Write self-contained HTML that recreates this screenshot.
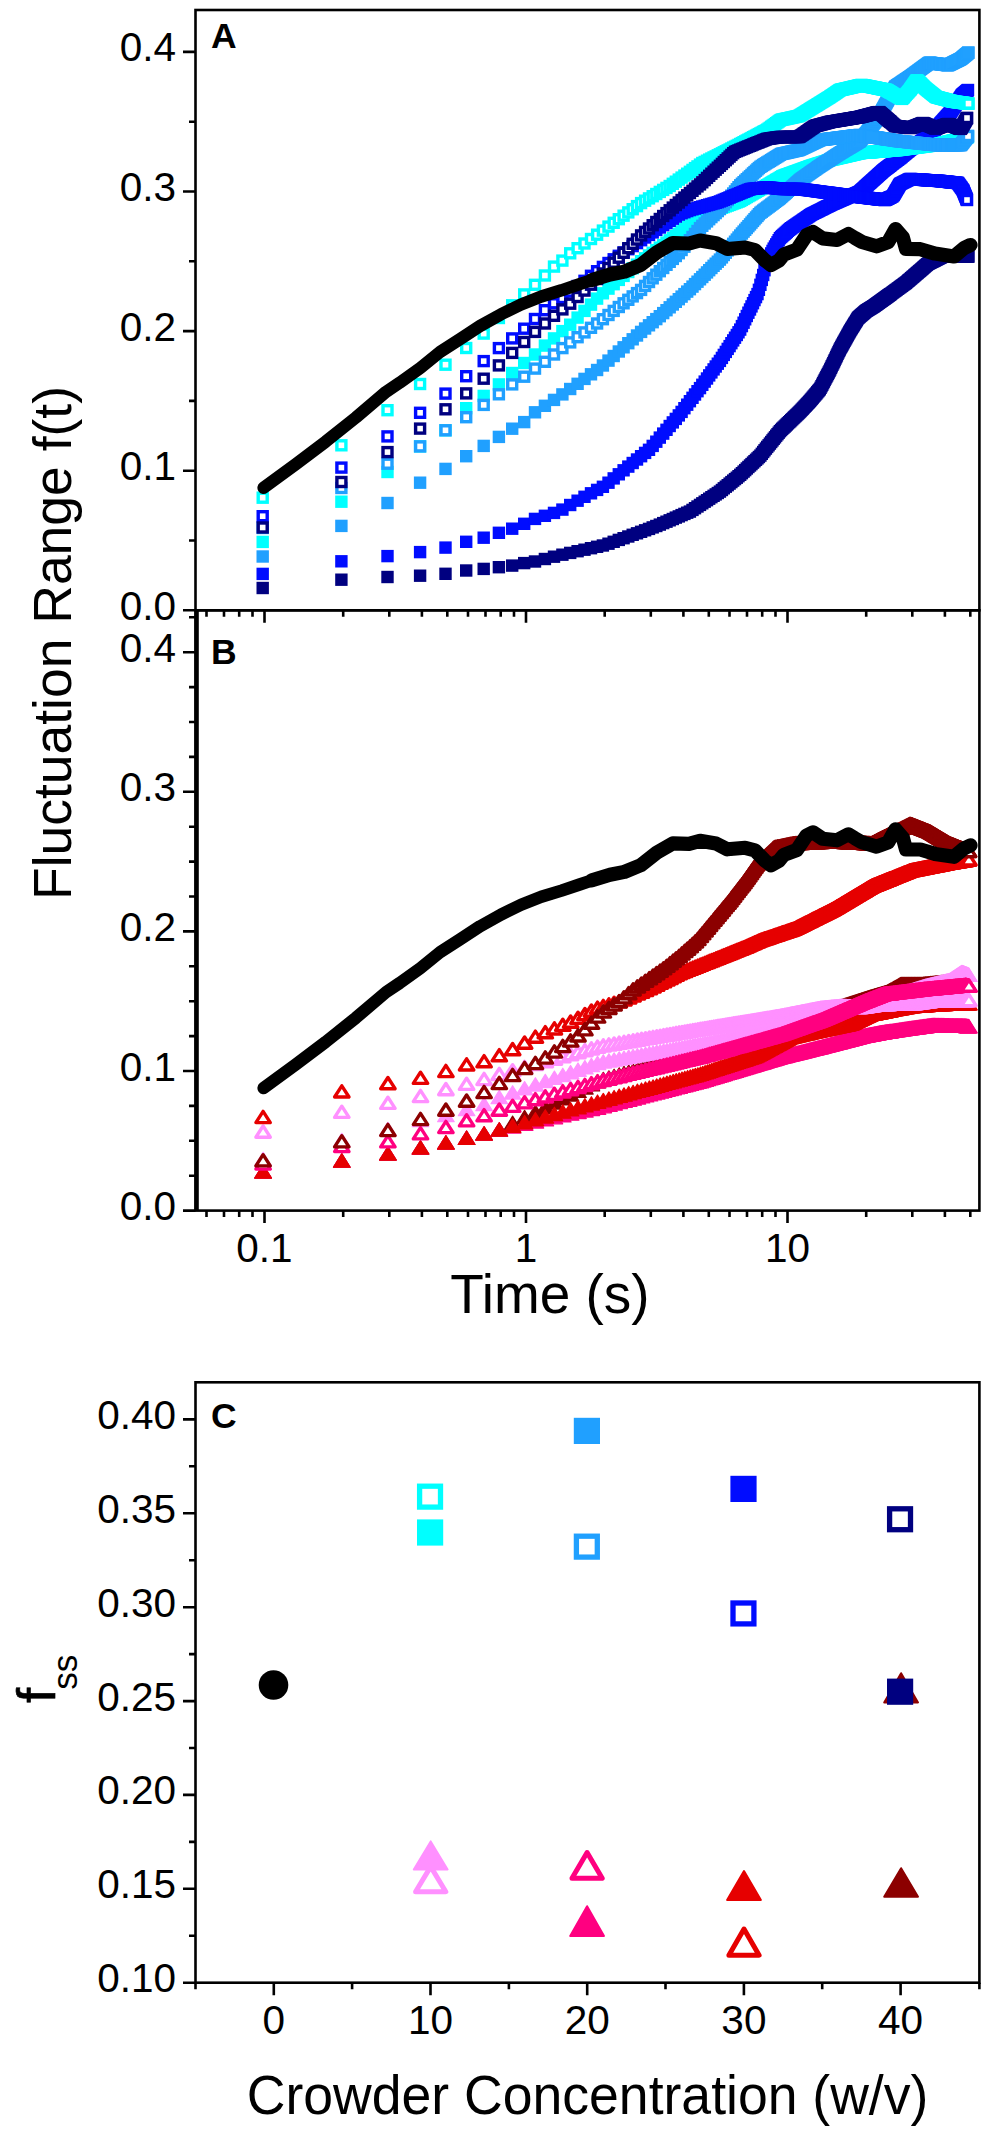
<!DOCTYPE html>
<html><head><meta charset="utf-8"><style>
html,body{margin:0;padding:0;background:#fff;}
svg{display:block;}
text{font-family:"Liberation Sans",sans-serif;fill:#000;}
</style></head><body>
<svg width="992" height="2134" viewBox="0 0 992 2134">
<defs><marker id="sCF" markerUnits="userSpaceOnUse" markerWidth="13" markerHeight="13" refX="6.2" refY="6.2" overflow="visible"><rect width="12.4" height="12.4" fill="#00FFFF"/></marker><marker id="sCO" markerUnits="userSpaceOnUse" markerWidth="13" markerHeight="13" refX="6.2" refY="6.2" overflow="visible"><rect x="1.7" y="1.7" width="9" height="9" fill="#fff" stroke="#00FFFF" stroke-width="3.4"/></marker><marker id="sDF" markerUnits="userSpaceOnUse" markerWidth="13" markerHeight="13" refX="6.2" refY="6.2" overflow="visible"><rect width="12.4" height="12.4" fill="#20A0FF"/></marker><marker id="sDO" markerUnits="userSpaceOnUse" markerWidth="13" markerHeight="13" refX="6.2" refY="6.2" overflow="visible"><rect x="1.7" y="1.7" width="9" height="9" fill="#fff" stroke="#20A0FF" stroke-width="3.4"/></marker><marker id="sBF" markerUnits="userSpaceOnUse" markerWidth="13" markerHeight="13" refX="6.2" refY="6.2" overflow="visible"><rect width="12.4" height="12.4" fill="#000CFF"/></marker><marker id="sBO" markerUnits="userSpaceOnUse" markerWidth="13" markerHeight="13" refX="6.2" refY="6.2" overflow="visible"><rect x="1.7" y="1.7" width="9" height="9" fill="#fff" stroke="#000CFF" stroke-width="3.4"/></marker><marker id="sNF" markerUnits="userSpaceOnUse" markerWidth="13" markerHeight="13" refX="6.2" refY="6.2" overflow="visible"><rect width="12.4" height="12.4" fill="#000080"/></marker><marker id="sNO" markerUnits="userSpaceOnUse" markerWidth="13" markerHeight="13" refX="6.2" refY="6.2" overflow="visible"><rect x="1.7" y="1.7" width="9" height="9" fill="#fff" stroke="#000080" stroke-width="3.4"/></marker><marker id="tRF" markerUnits="userSpaceOnUse" markerWidth="18" markerHeight="15" refX="9" refY="7.3" overflow="visible"><path d="M9 0.6L17.3 14 0.7 14Z" fill="#E60000" stroke="#E60000" stroke-width="1.2" stroke-linejoin="round"/></marker><marker id="tRO" markerUnits="userSpaceOnUse" markerWidth="18" markerHeight="15" refX="9" refY="7.3" overflow="visible"><path d="M9 1.7L16.2 12.9 1.8 12.9Z" fill="#fff" stroke="#E60000" stroke-width="3.4" stroke-linejoin="round"/></marker><marker id="tWF" markerUnits="userSpaceOnUse" markerWidth="18" markerHeight="15" refX="9" refY="7.3" overflow="visible"><path d="M9 0.6L17.3 14 0.7 14Z" fill="#8C0000" stroke="#8C0000" stroke-width="1.2" stroke-linejoin="round"/></marker><marker id="tWO" markerUnits="userSpaceOnUse" markerWidth="18" markerHeight="15" refX="9" refY="7.3" overflow="visible"><path d="M9 1.7L16.2 12.9 1.8 12.9Z" fill="#fff" stroke="#8C0000" stroke-width="3.4" stroke-linejoin="round"/></marker><marker id="tPF" markerUnits="userSpaceOnUse" markerWidth="18" markerHeight="15" refX="9" refY="7.3" overflow="visible"><path d="M9 0.6L17.3 14 0.7 14Z" fill="#FF0080" stroke="#FF0080" stroke-width="1.2" stroke-linejoin="round"/></marker><marker id="tPO" markerUnits="userSpaceOnUse" markerWidth="18" markerHeight="15" refX="9" refY="7.3" overflow="visible"><path d="M9 1.7L16.2 12.9 1.8 12.9Z" fill="#fff" stroke="#FF0080" stroke-width="3.4" stroke-linejoin="round"/></marker><marker id="tVF" markerUnits="userSpaceOnUse" markerWidth="18" markerHeight="15" refX="9" refY="7.3" overflow="visible"><path d="M9 0.6L17.3 14 0.7 14Z" fill="#FF90FF" stroke="#FF90FF" stroke-width="1.2" stroke-linejoin="round"/></marker><marker id="tVO" markerUnits="userSpaceOnUse" markerWidth="18" markerHeight="15" refX="9" refY="7.3" overflow="visible"><path d="M9 1.7L16.2 12.9 1.8 12.9Z" fill="#fff" stroke="#FF90FF" stroke-width="3.4" stroke-linejoin="round"/></marker></defs><polyline points="262.7,588.0 341.4,579.7 387.5,577.0 420.1,575.7 445.5,573.8 466.2,570.5 483.7,568.9 498.9,567.2 512.2,565.6 524.2,563.1 535.0,561.5 544.9,559.0 554.0,556.7 562.4,554.7 570.2,552.9 577.6,551.2 584.5,549.7 591.0,548.2 597.1,546.8 602.9,545.5 608.5,543.7 613.7,541.8 618.8,539.9 623.6,538.2 628.3,536.5 632.7,534.8 637.0,533.3 641.1,531.8 645.1,530.3 649.0,528.9 652.7,527.4 656.3,526.0 659.8,524.6 663.2,523.1 666.5,521.7 669.7,520.3 672.8,519.0 675.8,517.6 678.8,516.4 681.6,515.1 684.4,513.9 687.2,512.7 689.9,511.6 692.5,509.9 695.0,508.2 697.5,506.5 700.0,504.9 702.3,503.3 704.7,501.7 707.0,500.2 709.2,498.7 711.4,497.2 713.6,495.8 715.7,494.4 717.8,493.0 719.9,491.6 721.9,490.0 723.8,488.3 725.8,486.7 727.7,485.2 729.6,483.6 731.4,482.1 733.2,480.6 735.0,479.1 736.8,477.7 738.5,476.2 740.2,474.8 741.9,473.2 743.6,471.6 745.2,470.1 746.8,468.5 748.4,467.0 750.0,465.5 751.5,464.1 753.0,462.6 754.5,461.2 756.0,459.8 757.5,458.4 758.9,457.0 760.4,455.6 761.8,453.8 763.2,452.0 764.5,450.3 765.9,448.6 767.2,446.9 768.6,445.3 769.9,443.6 771.2,442.0 772.5,440.4 773.7,438.8 775.0,437.3 776.2,435.7 777.5,434.2 778.7,432.7 779.9,431.2 781.1,430.0 782.2,428.8 783.4,427.7 784.6,426.6 785.7,425.5 786.8,424.4 787.9,423.3 789.1,422.2 790.2,421.2 791.2,420.1 792.3,419.1 793.4,418.0 794.4,417.0 795.5,416.0 796.5,415.0 797.6,414.0 798.6,413.0 799.6,412.0 800.6,411.0 801.6,409.9 802.6,408.9 803.5,407.9 804.5,406.8 805.5,405.8 806.4,404.8 807.3,403.8 808.3,402.8 809.2,401.8 810.1,400.8 811.0,399.7 811.9,398.7 812.8,397.6 813.7,396.5 814.6,395.5 815.5,394.4 816.4,393.4 817.2,392.3 818.1,391.3 818.9,390.3 819.8,389.3 820.6,387.8 821.5,386.2 822.3,384.7 823.1,383.1 823.9,381.6 824.7,380.0 825.5,378.5 826.3,377.0 827.1,375.5 827.9,374.0 828.7,372.5 829.5,371.0 830.2,369.5 831.0,367.9 831.7,366.3 832.5,364.7 833.3,363.2 834.0,361.6 834.7,360.1 835.5,358.5 836.2,357.0 836.9,355.5 837.6,353.9 838.4,352.4 839.1,350.9 839.8,349.5 840.5,348.1 841.2,346.9 841.9,345.6 842.6,344.4 843.3,343.1 843.9,341.9 844.6,340.7 845.3,339.5 846.0,338.3 846.6,337.1 847.3,335.9 847.9,334.7 848.6,333.5 849.3,332.3 849.9,331.2 850.5,330.1 851.2,329.1 851.8,328.0 852.5,327.0 853.1,326.0 853.7,325.0 854.3,324.0 854.9,323.0 855.6,322.0 856.2,321.0 856.8,320.0 857.4,319.0 858.0,318.0 858.6,317.5 859.2,317.0 859.8,316.4 860.4,315.9 861.0,315.4 861.5,314.9 862.1,314.4 862.7,313.9 863.3,313.4 863.9,312.9 864.4,312.4 865.0,311.9 865.5,311.4 866.1,310.9 866.7,310.6 867.2,310.2 867.8,309.9 868.3,309.5 868.9,309.2 869.4,308.9 870.0,308.5 870.5,308.2 871.0,307.9 871.6,307.5 872.1,307.2 872.6,306.9 873.2,306.5 873.7,306.2 874.2,305.9 874.7,305.5 875.2,305.1 875.8,304.7 876.3,304.4 876.8,304.0 877.3,303.6 877.8,303.3 878.3,302.9 878.8,302.6 879.3,302.2 879.8,301.8 880.3,301.5 880.8,301.1 881.3,300.8 881.8,300.4 882.2,300.1 882.7,299.7 883.2,299.4 883.7,299.0 884.2,298.7 884.7,298.4 885.1,298.0 885.6,297.7 886.1,297.3 886.5,297.0 887.0,296.6 887.5,296.3 887.9,296.0 888.4,295.6 888.8,295.3 889.3,295.0 889.8,294.6 890.2,294.3 890.7,294.0 891.6,293.3 892.5,292.6 893.3,292.0 894.2,291.4 895.1,290.7 895.9,290.1 896.8,289.5 897.7,288.8 898.5,288.2 899.3,287.6 900.2,287.0 901.0,286.4 901.8,285.8 902.6,285.2 903.4,284.6 904.2,284.0 905.0,283.5 905.8,282.9 906.6,282.2 907.4,281.5 908.2,280.8 908.9,280.2 909.7,279.5 910.5,278.9 911.2,278.2 912.0,277.5 912.7,276.9 913.5,276.3 914.2,275.6 914.9,275.0 915.6,274.4 916.4,273.7 917.1,273.1 917.8,272.5 918.5,271.9 919.2,271.3 919.9,270.7 920.6,270.1 921.3,269.5 922.0,268.9 922.7,268.3 923.3,267.7 924.0,267.1 924.7,266.5 925.3,265.9 926.0,265.4 926.7,264.8 927.3,264.2 928.0,263.8 928.6,263.4 929.3,263.1 929.9,262.8 930.5,262.5 931.2,262.1 931.8,261.8 932.4,261.5 933.1,261.2 933.7,260.9 934.3,260.6 934.9,260.3 935.5,259.9 936.1,259.6 936.7,259.3 937.3,259.0 937.9,258.7 938.5,258.4 939.1,258.1 939.7,257.8 940.3,257.5 940.8,257.2 941.4,256.9 942.0,256.7 942.6,256.5 943.1,256.5 943.7,256.5 944.3,256.5 944.8,256.5 945.4,256.5 945.9,256.5 946.5,256.5 947.0,256.5 947.6,256.5 948.1,256.5 948.7,256.5 949.2,256.5 949.8,256.5 950.3,256.5 950.8,256.5 951.4,256.5 951.9,256.5 952.4,256.5 952.9,256.5 953.4,256.5 954.0,256.5 954.5,256.5 955.0,256.5 955.5,256.5 956.0,256.5 956.5,256.5 957.0,256.5 957.5,256.5 958.0,256.5 958.5,256.5 959.0,256.5 959.5,256.5 960.0,256.5 960.5,256.5 961.0,256.5 961.5,256.5 961.9,256.5 962.4,256.5 962.9,256.5 963.4,256.5 963.8,256.5 964.3,256.5 964.8,256.5 965.3,256.5 965.7,256.5 966.2,256.5 966.6,256.5 967.1,256.5 967.6,256.5 968.0,256.5 968.5,256.5" fill="none" stroke="none" marker-start="url(#sNF)" marker-mid="url(#sNF)" marker-end="url(#sNF)"/>
<polyline points="262.7,573.9 341.4,561.3 387.5,556.1 420.1,552.1 445.5,547.6 466.2,541.8 483.7,537.7 498.9,532.8 512.2,528.7 524.2,523.8 535.0,518.9 544.9,515.8 554.0,512.9 562.4,509.6 570.2,505.0 577.6,500.7 584.5,496.8 591.0,493.3 597.1,489.9 602.9,486.8 608.5,482.7 613.7,478.4 618.8,474.3 623.6,470.3 628.3,466.6 632.7,463.0 637.0,459.5 641.1,456.2 645.1,452.9 649.0,449.8 652.7,445.9 656.3,441.7 659.8,437.6 663.2,433.6 666.5,429.8 669.7,426.0 672.8,422.4 675.8,418.9 678.8,415.4 681.6,411.9 684.4,408.2 687.2,404.7 689.9,401.2 692.5,397.8 695.0,394.5 697.5,391.2 700.0,388.1 702.3,384.8 704.7,381.6 707.0,378.5 709.2,375.4 711.4,372.4 713.6,369.4 715.7,366.5 717.8,363.7 719.9,360.9 721.9,357.9 723.8,354.9 725.8,351.9 727.7,348.9 729.6,346.1 731.4,343.2 733.2,340.4 735.0,337.7 736.8,335.0 738.5,332.3 740.2,329.6 741.9,326.1 743.6,322.7 745.2,319.3 746.8,316.0 748.4,312.7 750.0,309.5 751.5,306.4 753.0,303.2 754.5,300.1 756.0,297.1 757.5,294.1 758.9,289.8 760.4,284.8 761.8,279.9 763.2,275.0 764.5,270.2 765.9,265.5 767.2,261.3 768.6,258.7 769.9,256.0 771.2,253.4 772.5,250.9 773.7,248.6 775.0,246.5 776.2,244.4 777.5,242.3 778.7,240.2 779.9,238.2 781.1,237.0 782.2,236.0 783.4,234.9 784.6,233.9 785.7,232.9 786.8,231.9 787.9,230.8 789.1,229.8 790.2,228.9 791.2,228.2 792.3,227.4 793.4,226.7 794.4,226.0 795.5,225.2 796.5,224.5 797.6,223.8 798.6,223.1 799.6,222.4 800.6,221.8 801.6,221.1 802.6,220.4 803.5,219.7 804.5,219.1 805.5,218.4 806.4,217.8 807.3,217.1 808.3,216.5 809.2,215.9 810.1,215.2 811.0,214.6 811.9,214.1 812.8,213.7 813.7,213.2 814.6,212.8 815.5,212.4 816.4,211.9 817.2,211.5 818.1,211.1 818.9,210.6 819.8,210.2 820.6,209.8 821.5,209.4 822.3,209.0 823.1,208.6 823.9,208.1 824.7,207.7 825.5,207.3 826.3,206.9 827.1,206.5 827.9,206.2 828.7,205.8 829.5,205.4 830.2,205.0 831.0,204.6 831.7,204.2 832.5,203.9 833.3,203.6 834.0,203.3 834.7,202.9 835.5,202.6 836.2,202.3 836.9,202.0 837.6,201.7 838.4,201.3 839.1,201.0 839.8,200.7 840.5,200.4 841.2,200.1 841.9,199.8 842.6,199.5 843.3,199.2 843.9,198.9 844.6,198.6 845.3,198.3 846.0,198.0 846.6,197.7 847.3,197.4 847.9,197.1 848.6,196.8 849.3,196.5 849.9,196.3 850.5,196.0 851.2,195.7 851.8,195.4 852.5,195.1 853.1,194.9 853.7,194.6 854.3,194.3 854.9,194.0 855.6,193.8 856.2,193.5 856.8,193.2 857.4,193.0 858.0,192.7 858.6,192.4 859.2,192.2 859.8,191.8 860.4,191.3 861.0,190.8 861.5,190.2 862.1,189.7 862.7,189.2 863.3,188.7 863.9,188.2 864.4,187.7 865.0,187.1 865.5,186.6 866.1,186.1 866.7,185.6 867.2,185.1 867.8,184.6 868.3,184.1 868.9,183.6 869.4,183.1 870.0,182.7 870.5,182.2 871.0,181.7 871.6,181.2 872.1,180.7 872.6,180.2 873.2,179.8 873.7,179.3 874.2,178.8 874.7,178.4 875.2,177.9 875.8,177.4 876.3,177.0 876.8,176.5 877.3,176.1 877.8,175.6 878.3,175.1 878.8,174.7 879.3,174.2 879.8,173.8 880.3,173.3 880.8,172.9 881.3,172.5 881.8,172.0 882.2,171.6 882.7,171.1 883.2,170.7 883.7,170.3 884.2,169.9 884.7,169.5 885.1,169.2 885.6,168.8 886.1,168.4 886.5,168.1 887.0,167.7 887.5,167.4 887.9,167.1 888.4,166.7 888.8,166.4 889.3,166.0 889.8,165.7 890.2,165.3 890.7,165.0 891.6,164.3 892.5,163.7 893.3,163.0 894.2,162.3 895.1,161.7 895.9,161.0 896.8,160.4 897.7,159.8 898.5,159.1 899.3,158.5 900.2,157.9 901.0,157.2 901.8,156.5 902.6,155.8 903.4,155.1 904.2,154.5 905.0,153.8 905.8,153.1 906.6,152.5 907.4,151.8 908.2,151.2 908.9,150.5 909.7,149.9 910.5,149.3 911.2,148.6 912.0,148.0 912.7,147.5 913.5,146.9 914.2,146.4 914.9,145.9 915.6,145.4 916.4,144.8 917.1,144.3 917.8,143.8 918.5,143.3 919.2,142.8 919.9,142.3 920.6,141.8 921.3,141.3 922.0,140.8 922.7,140.3 923.3,139.8 924.0,139.3 924.7,138.8 925.3,138.4 926.0,137.9 926.7,137.4 927.3,136.9 928.0,136.5 928.6,136.0 929.3,135.5 929.9,135.1 930.5,134.4 931.2,133.7 931.8,133.0 932.4,132.3 933.1,131.6 933.7,131.0 934.3,130.3 934.9,129.6 935.5,128.9 936.1,128.3 936.7,127.6 937.3,127.0 937.9,126.3 938.5,125.6 939.1,125.0 939.7,124.4 940.3,123.7 940.8,123.1 941.4,122.4 942.0,121.8 942.6,121.2 943.1,120.5 943.7,119.9 944.3,119.3 944.8,118.7 945.4,118.1 945.9,117.5 946.5,116.9 947.0,116.2 947.6,115.6 948.1,115.0 948.7,114.5 949.2,113.9 949.8,113.3 950.3,112.6 950.8,111.8 951.4,111.0 951.9,110.2 952.4,109.4 952.9,108.6 953.4,107.8 954.0,107.1 954.5,106.3 955.0,105.5 955.5,104.7 956.0,104.0 956.5,103.2 957.0,102.5 957.5,101.7 958.0,101.0 958.5,100.2 959.0,99.5 959.5,98.7 960.0,98.0 960.5,97.3 961.0,96.5 961.5,95.8 961.9,95.1 962.4,94.7 962.9,94.3 963.4,93.9 963.8,93.5 964.3,93.1 964.8,92.7 965.3,92.3 965.7,91.9 966.2,91.5 966.6,91.1 967.1,90.7 967.6,90.4 968.0,90.0" fill="none" stroke="none" marker-start="url(#sBF)" marker-mid="url(#sBF)" marker-end="url(#sBF)"/>
<polyline points="262.7,541.9 341.4,501.7 387.5,472.0 420.1,446.4 445.5,430.3 466.2,408.2 483.7,395.9 498.9,384.4 512.2,373.0 524.2,363.0 535.0,354.5 544.9,345.6 554.0,338.4 562.4,331.1 570.2,324.7 577.6,317.6 584.5,310.9 591.0,304.6 597.1,298.6 602.9,293.3 608.5,288.6 613.7,284.2 618.8,279.9 623.6,275.9 628.3,272.0 632.7,268.3 637.0,264.7 641.1,261.2 645.1,258.3 649.0,255.5 652.7,252.8 656.3,250.1 659.8,247.6 663.2,245.1 666.5,242.7 669.7,240.3 672.8,238.1 675.8,235.8 678.8,233.7 681.6,231.4 684.4,229.0 687.2,226.7 689.9,224.5 692.5,222.3 695.0,220.2 697.5,218.1 700.0,216.0 702.3,215.1 704.7,214.2 707.0,213.4 709.2,212.5 711.4,211.7 713.6,210.9 715.7,210.1 717.8,209.3 719.9,208.6 721.9,207.8 723.8,207.1 725.8,206.3 727.7,205.6 729.6,204.9 731.4,204.2 733.2,203.5 735.0,202.9 736.8,202.2 738.5,201.6 740.2,200.9 741.9,199.9 743.6,198.9 745.2,198.0 746.8,197.0 748.4,196.1 750.0,195.2 751.5,194.3 753.0,193.4 754.5,192.6 756.0,191.7 757.5,190.8 758.9,190.0 760.4,189.2 761.8,188.3 763.2,187.5 764.5,186.7 765.9,185.9 767.2,185.2 768.6,184.4 769.9,183.6 771.2,182.9 772.5,182.1 773.7,181.4 775.0,180.7 776.2,179.9 777.5,179.2 778.7,178.5 779.9,177.8 781.1,177.1 782.2,176.4 783.4,175.9 784.6,175.4 785.7,175.0 786.8,174.6 787.9,174.2 789.1,173.8 790.2,173.4 791.2,173.1 792.3,172.7 793.4,172.3 794.4,171.9 795.5,171.5 796.5,171.2 797.6,170.8 798.6,170.4 799.6,170.1 800.6,169.7 801.6,169.4 802.6,169.0 803.5,168.7 804.5,168.3 805.5,168.0 806.4,167.6 807.3,167.3 808.3,167.0 809.2,166.6 810.1,166.3 811.0,166.0 811.9,165.7 812.8,165.4 813.7,165.1 814.6,164.9 815.5,164.6 816.4,164.3 817.2,164.0 818.1,163.8 818.9,163.5 819.8,163.2 820.6,163.0 821.5,162.7 822.3,162.4 823.1,162.2 823.9,161.9 824.7,161.7 825.5,161.4 826.3,161.2 827.1,160.9 827.9,160.7 828.7,160.4 829.5,160.2 830.2,159.9 831.0,159.8 831.7,159.6 832.5,159.4 833.3,159.2 834.0,159.1 834.7,158.9 835.5,158.7 836.2,158.6 836.9,158.4 837.6,158.2 838.4,158.0 839.1,157.9 839.8,157.7 840.5,157.6 841.2,157.4 841.9,157.2 842.6,157.1 843.3,156.9 843.9,156.7 844.6,156.6 845.3,156.4 846.0,156.3 846.6,156.1 847.3,156.0 847.9,155.8 848.6,155.7 849.3,155.5 849.9,155.4 850.5,155.2 851.2,155.1 851.8,154.9 852.5,154.8 853.1,154.6 853.7,154.5 854.3,154.3 854.9,154.2 855.6,154.0 856.2,153.9 856.8,153.7 857.4,153.6 858.0,153.5 858.6,153.3 859.2,153.2 859.8,153.1 860.4,153.0 861.0,152.9 861.5,152.9 862.1,152.8 862.7,152.8 863.3,152.7 863.9,152.7 864.4,152.7 865.0,152.6 865.5,152.6 866.1,152.5 866.7,152.5 867.2,152.4 867.8,152.4 868.3,152.3 868.9,152.3 869.4,152.3 870.0,152.2 870.5,152.2 871.0,152.1 871.6,152.1 872.1,152.0 872.6,152.0 873.2,152.0 873.7,151.9 874.2,151.9 874.7,151.8 875.2,151.8 875.8,151.8 876.3,151.7 876.8,151.7 877.3,151.6 877.8,151.6 878.3,151.6 878.8,151.5 879.3,151.5 879.8,151.4 880.3,151.4 880.8,151.4 881.3,151.3 881.8,151.3 882.2,151.2 882.7,151.2 883.2,151.2 883.7,151.1 884.2,151.1 884.7,151.1 885.1,151.0 885.6,151.0 886.1,150.9 886.5,150.9 887.0,150.9 887.5,150.8 887.9,150.8 888.4,150.8 888.8,150.7 889.3,150.7 889.8,150.7 890.2,150.6 890.7,150.6 891.6,150.5 892.5,150.4 893.3,150.4 894.2,150.3 895.1,150.2 895.9,150.2 896.8,150.1 897.7,150.0 898.5,149.9 899.3,149.8 900.2,149.7 901.0,149.6 901.8,149.5 902.6,149.4 903.4,149.3 904.2,149.2 905.0,149.0 905.8,148.9 906.6,148.8 907.4,148.7 908.2,148.6 908.9,148.5 909.7,148.4 910.5,148.3 911.2,148.2 912.0,148.1 912.7,148.0 913.5,147.9 914.2,147.8 914.9,147.7 915.6,147.6 916.4,147.5 917.1,147.4 917.8,147.3 918.5,147.2 919.2,147.1 919.9,147.0 920.6,146.9 921.3,146.9 922.0,146.8 922.7,146.7 923.3,146.6 924.0,146.5 924.7,146.4 925.3,146.3 926.0,146.2 926.7,146.1 927.3,146.0 928.0,145.9 928.6,145.9 929.3,145.8 929.9,145.7 930.5,145.6 931.2,145.5 931.8,145.4 932.4,145.3 933.1,145.3 933.7,145.2 934.3,145.1 934.9,145.0 935.5,144.9 936.1,144.7 936.7,144.6 937.3,144.4 937.9,144.3 938.5,144.2 939.1,144.0 939.7,143.9 940.3,143.7 940.8,143.6 941.4,143.4 942.0,143.3 942.6,143.2 943.1,143.0 943.7,142.9 944.3,142.8 944.8,142.6 945.4,142.5 945.9,142.3 946.5,142.2 947.0,142.1 947.6,141.9 948.1,141.8 948.7,141.7 949.2,141.6 949.8,141.4 950.3,141.3 950.8,141.2 951.4,141.0 951.9,140.9 952.4,140.8 952.9,140.7 953.4,140.5 954.0,140.4 954.5,140.3 955.0,140.2 955.5,140.0 956.0,139.9 956.5,139.8 957.0,139.7 957.5,139.5 958.0,139.4 958.5,139.3 959.0,139.2 959.5,139.1 960.0,138.9 960.5,138.8 961.0,138.7 961.5,138.6 961.9,138.5 962.4,138.4 962.9,138.2 963.4,138.1 963.8,138.0 964.3,137.9 964.8,137.8 965.3,137.7 965.7,137.6 966.2,137.4 966.6,137.3 967.1,137.2 967.6,137.1 968.0,137.0" fill="none" stroke="none" marker-start="url(#sCF)" marker-mid="url(#sCF)" marker-end="url(#sCF)"/>
<polyline points="262.7,556.5 341.4,525.9 387.5,503.0 420.1,482.7 445.5,468.9 466.2,456.2 483.7,445.9 498.9,436.9 512.2,428.7 524.2,422.1 535.0,412.3 544.9,405.8 554.0,399.9 562.4,394.4 570.2,389.0 577.6,383.8 584.5,378.9 591.0,374.3 597.1,370.0 602.9,365.5 608.5,360.6 613.7,356.0 618.8,351.5 623.6,347.3 628.3,343.2 632.7,339.3 637.0,335.5 641.1,331.9 645.1,328.5 649.0,325.3 652.7,322.2 656.3,319.1 659.8,316.2 663.2,313.1 666.5,310.2 669.7,307.3 672.8,304.5 675.8,301.8 678.8,299.2 681.6,296.6 684.4,294.1 687.2,291.6 689.9,289.2 692.5,286.6 695.0,284.1 697.5,281.7 700.0,279.3 702.3,277.0 704.7,274.7 707.0,272.4 709.2,270.2 711.4,268.0 713.6,265.8 715.7,263.7 717.8,261.7 719.9,259.6 721.9,257.4 723.8,255.0 725.8,252.7 727.7,250.4 729.6,248.2 731.4,246.0 733.2,243.8 735.0,241.7 736.8,239.6 738.5,237.5 740.2,235.5 741.9,233.5 743.6,231.6 745.2,229.8 746.8,228.0 748.4,226.2 750.0,224.4 751.5,222.6 753.0,220.9 754.5,219.2 756.0,217.5 757.5,215.9 758.9,214.2 760.4,212.7 761.8,211.7 763.2,210.6 764.5,209.6 765.9,208.6 767.2,207.6 768.6,206.6 769.9,205.6 771.2,204.6 772.5,203.7 773.7,202.7 775.0,201.8 776.2,200.8 777.5,199.9 778.7,199.0 779.9,198.1 781.1,197.0 782.2,196.0 783.4,194.9 784.6,193.9 785.7,192.9 786.8,191.9 787.9,190.8 789.1,189.8 790.2,188.9 791.2,187.9 792.3,186.9 793.4,186.0 794.4,185.0 795.5,184.1 796.5,183.1 797.6,182.2 798.6,181.3 799.6,180.4 800.6,179.6 801.6,178.9 802.6,178.2 803.5,177.5 804.5,176.9 805.5,176.2 806.4,175.5 807.3,174.9 808.3,174.2 809.2,173.6 810.1,172.9 811.0,172.3 811.9,171.6 812.8,171.0 813.7,170.4 814.6,169.8 815.5,169.2 816.4,168.5 817.2,167.9 818.1,167.3 818.9,166.7 819.8,166.2 820.6,165.6 821.5,165.1 822.3,164.5 823.1,164.0 823.9,163.5 824.7,162.9 825.5,162.4 826.3,161.9 827.1,161.4 827.9,160.9 828.7,160.4 829.5,159.9 830.2,159.4 831.0,158.9 831.7,158.4 832.5,157.9 833.3,157.4 834.0,156.9 834.7,156.4 835.5,155.9 836.2,155.5 836.9,155.0 837.6,154.5 838.4,154.1 839.1,153.6 839.8,153.1 840.5,152.7 841.2,152.3 841.9,151.9 842.6,151.5 843.3,151.0 843.9,150.6 844.6,150.2 845.3,149.8 846.0,149.4 846.6,149.0 847.3,148.6 847.9,148.2 848.6,147.8 849.3,147.4 849.9,147.1 850.5,146.7 851.2,146.3 851.8,145.9 852.5,145.5 853.1,145.2 853.7,144.8 854.3,144.4 854.9,144.0 855.6,143.7 856.2,143.3 856.8,142.9 857.4,142.6 858.0,142.2 858.6,141.8 859.2,141.5 859.8,141.1 860.4,140.5 861.0,139.8 861.5,139.0 862.1,138.3 862.7,137.5 863.3,136.8 863.9,136.1 864.4,135.4 865.0,134.6 865.5,133.9 866.1,133.2 866.7,132.5 867.2,131.8 867.8,131.1 868.3,130.4 868.9,129.7 869.4,129.0 870.0,128.3 870.5,127.6 871.0,126.9 871.6,126.2 872.1,125.5 872.6,124.9 873.2,124.2 873.7,123.5 874.2,122.8 874.7,122.2 875.2,121.5 875.8,120.9 876.3,120.2 876.8,119.6 877.3,118.9 877.8,118.3 878.3,117.5 878.8,116.5 879.3,115.6 879.8,114.7 880.3,113.8 880.8,112.9 881.3,112.1 881.8,111.2 882.2,110.3 882.7,109.4 883.2,108.5 883.7,107.7 884.2,106.8 884.7,105.9 885.1,105.1 885.6,104.2 886.1,103.4 886.5,102.5 887.0,101.7 887.5,100.8 887.9,100.0 888.4,99.1 888.8,98.3 889.3,97.5 889.8,96.7 890.2,95.8 890.7,95.0 891.1,94.2 891.6,93.4 892.0,92.6 892.5,91.8 892.9,91.0 893.3,90.2 893.8,89.4 894.2,88.6 894.7,87.8 895.1,87.0 895.5,86.5 896.4,85.9 897.2,85.3 898.1,84.7 898.9,84.2 899.8,83.6 900.6,83.1 901.4,82.5 902.2,82.0 903.0,81.4 903.8,80.9 904.6,80.4 905.4,79.8 906.2,79.3 907.0,78.8 907.8,78.2 908.6,77.7 909.3,77.2 910.1,76.7 910.8,76.2 911.6,75.6 912.3,75.1 913.1,74.5 913.8,74.0 914.6,73.5 915.3,72.9 916.0,72.4 916.7,71.9 917.4,71.4 918.2,70.8 918.9,70.3 919.6,69.8 920.3,69.3 920.9,68.8 921.6,68.3 922.3,67.8 923.0,67.3 923.7,66.8 924.3,66.3 925.0,65.8 925.7,65.3 926.3,64.9 927.0,64.4 927.6,63.9 928.3,63.4 928.9,63.0 929.6,62.7 930.2,62.8 930.9,62.9 931.5,63.0 932.1,63.1 932.7,63.2 933.4,63.2 934.0,63.3 934.6,63.4 935.2,63.5 935.8,63.6 936.4,63.6 937.0,63.7 937.6,63.8 938.2,63.9 938.8,64.0 939.4,64.0 940.0,64.1 940.6,64.2 941.1,64.3 941.7,64.3 942.3,64.4 942.9,64.5 943.4,64.6 944.0,64.6 944.5,64.7 945.1,64.8 945.7,64.9 946.2,64.9 946.8,65.0 947.3,65.1 947.9,65.2 948.4,65.1 948.9,64.8 949.5,64.6 950.0,64.3 950.6,64.0 951.1,63.8 951.6,63.5 952.1,63.2 952.7,63.0 953.2,62.7 953.7,62.4 954.2,62.2 954.7,61.9 955.2,61.7 955.8,61.4 956.3,61.2 956.8,60.9 957.3,60.7 957.8,60.4 958.3,60.2 958.8,59.9 959.3,59.7 959.7,59.4 960.2,59.2 960.7,58.9 961.2,58.6 961.7,58.2 962.2,57.8 962.7,57.4 963.1,57.0 963.6,56.6 964.1,56.2 964.6,55.8 965.0,55.4 965.5,55.0 966.0,54.6 966.4,54.2 966.9,53.9 967.3,53.5 967.8,53.1 968.3,52.7 968.4,52.6" fill="none" stroke="none" marker-start="url(#sDF)" marker-mid="url(#sDF)" marker-end="url(#sDF)"/>
<polyline points="262.7,528.0 341.4,488.0 387.5,463.7 420.1,446.4 445.5,430.3 466.2,417.2 483.7,404.9 498.9,394.3 512.2,384.4 524.2,376.7 535.0,368.6 544.9,361.8 554.0,354.5 562.4,348.1 570.2,342.4 577.6,337.2 584.5,332.4 591.0,327.8 597.1,323.5 602.9,319.2 608.5,315.0 613.7,310.9 618.8,307.0 623.6,303.3 628.3,299.8 632.7,296.4 637.0,293.1 641.1,289.9 645.1,285.9 649.0,282.0 652.7,278.3 656.3,274.7 659.8,271.2 663.2,268.0 666.5,264.8 669.7,261.8 672.8,258.9 675.8,256.0 678.8,253.2 681.6,250.0 684.4,246.7 687.2,243.4 689.9,240.2 692.5,237.0 695.0,234.0 697.5,231.0 700.0,228.1 702.3,225.8 704.7,223.5 707.0,221.4 709.2,219.2 711.4,217.1 713.6,215.1 715.7,213.1 717.8,211.1 719.9,209.1 721.9,206.8 723.8,204.5 725.8,202.2 727.7,200.0 729.6,197.8 731.4,195.6 733.2,193.5 735.0,191.4 736.8,189.3 738.5,187.2 740.2,185.3 741.9,183.7 743.6,182.2 745.2,180.7 746.8,179.2 748.4,177.7 750.0,176.3 751.5,174.9 753.0,173.4 754.5,172.1 756.0,170.7 757.5,169.3 758.9,168.0 760.4,166.8 761.8,165.9 763.2,165.0 764.5,164.2 765.9,163.3 767.2,162.5 768.6,161.7 769.9,160.9 771.2,160.1 772.5,159.3 773.7,158.5 775.0,157.7 776.2,157.0 777.5,156.2 778.7,155.4 779.9,154.7 781.1,154.0 782.2,153.7 783.4,153.5 784.6,153.2 785.7,153.0 786.8,152.7 787.9,152.5 789.1,152.2 790.2,152.0 791.2,151.7 792.3,151.5 793.4,151.2 794.4,151.0 795.5,150.8 796.5,150.6 797.6,150.3 798.6,150.1 799.6,149.7 800.6,149.2 801.6,148.8 802.6,148.3 803.5,147.8 804.5,147.4 805.5,146.9 806.4,146.5 807.3,146.0 808.3,145.6 809.2,145.1 810.1,144.7 811.0,144.3 811.9,143.8 812.8,143.4 813.7,143.0 814.6,142.6 815.5,142.1 816.4,141.7 817.2,141.3 818.1,140.9 818.9,140.5 819.8,140.1 820.6,139.9 821.5,139.8 822.3,139.7 823.1,139.6 823.9,139.5 824.7,139.4 825.5,139.3 826.3,139.2 827.1,139.1 827.9,139.0 828.7,138.9 829.5,138.8 830.2,138.7 831.0,138.6 831.7,138.5 832.5,138.4 833.3,138.3 834.0,138.3 834.7,138.2 835.5,138.1 836.2,138.0 836.9,137.9 837.6,137.8 838.4,137.7 839.1,137.6 839.8,137.5 840.5,137.4 841.2,137.4 841.9,137.3 842.6,137.2 843.3,137.1 843.9,137.0 844.6,136.9 845.3,136.8 846.0,136.8 846.6,136.7 847.3,136.6 847.9,136.5 848.6,136.4 849.3,136.3 849.9,136.3 850.5,136.2 851.2,136.1 851.8,136.0 852.5,135.9 853.1,135.9 853.7,135.8 854.3,135.7 854.9,135.6 855.6,135.6 856.2,135.5 856.8,135.4 857.4,135.3 858.0,135.3 858.6,135.2 859.2,135.1 859.8,135.0 860.4,135.1 861.0,135.2 861.5,135.2 862.1,135.3 862.7,135.4 863.3,135.5 863.9,135.6 864.4,135.7 865.0,135.8 865.5,135.9 866.1,136.0 866.7,136.1 867.2,136.1 867.8,136.2 868.3,136.3 868.9,136.4 869.4,136.5 870.0,136.6 870.5,136.7 871.0,136.7 871.6,136.8 872.1,136.9 872.6,137.0 873.2,137.1 873.7,137.2 874.2,137.2 874.7,137.3 875.2,137.4 875.8,137.5 876.3,137.6 876.8,137.6 877.3,137.7 877.8,137.8 878.3,137.9 878.8,138.0 879.3,138.0 879.8,138.1 880.3,138.2 880.8,138.3 881.3,138.4 881.8,138.4 882.2,138.5 882.7,138.6 883.2,138.7 883.7,138.7 884.2,138.8 884.7,138.9 885.1,139.0 885.6,139.0 886.1,139.1 886.5,139.2 887.0,139.3 887.5,139.3 887.9,139.4 888.4,139.5 888.8,139.6 889.3,139.6 889.8,139.7 890.2,139.8 890.7,139.8 891.6,140.0 892.5,140.1 893.3,140.3 894.2,140.4 895.1,140.5 895.9,140.7 896.8,140.8 897.7,140.9 898.5,141.1 899.3,141.1 900.2,141.2 901.0,141.3 901.8,141.4 902.6,141.5 903.4,141.6 904.2,141.7 905.0,141.7 905.8,141.8 906.6,141.9 907.4,142.0 908.2,142.1 908.9,142.2 909.7,142.2 910.5,142.3 911.2,142.4 912.0,142.5 912.7,142.5 913.5,142.6 914.2,142.7 914.9,142.8 915.6,142.9 916.4,142.9 917.1,143.0 917.8,143.1 918.5,143.2 919.2,143.2 919.9,143.3 920.6,143.4 921.3,143.5 922.0,143.5 922.7,143.6 923.3,143.7 924.0,143.7 924.7,143.8 925.3,143.9 926.0,143.9 926.7,144.0 927.3,144.1 928.0,144.2 928.6,144.2 929.3,144.3 929.9,144.4 930.5,144.4 931.2,144.5 931.8,144.6 932.4,144.6 933.1,144.7 933.7,144.8 934.3,144.8 934.9,144.9 935.5,144.9 936.1,145.0 936.7,145.0 937.3,145.0 937.9,145.0 938.5,145.0 939.1,145.0 939.7,145.0 940.3,145.0 940.8,145.0 941.4,145.0 942.0,145.0 942.6,145.0 943.1,145.0 943.7,145.0 944.3,145.0 944.8,145.0 945.4,145.0 945.9,145.0 946.5,145.0 947.0,145.0 947.6,145.0 948.1,145.0 948.7,145.0 949.2,145.0 949.8,145.0 950.3,145.0 950.8,145.0 951.4,145.0 951.9,145.0 952.4,145.0 952.9,145.0 953.4,145.0 954.0,145.0 954.5,145.0 955.0,145.0 955.5,145.0 956.0,145.0 956.5,145.0 957.0,145.0 957.5,145.0 958.0,145.0 958.5,145.0 959.0,145.0 959.5,145.0 960.0,145.0 960.5,145.0 961.0,145.0 961.5,144.4 961.9,143.8 962.4,143.2 962.9,142.6 963.4,142.0 963.8,141.3 964.3,140.7 964.8,140.1 965.3,139.5 965.7,138.9 966.2,138.3 966.6,137.7 967.1,137.1 967.6,136.6 968.0,136.0 968.0,136.0" fill="none" stroke="none" marker-start="url(#sDO)" marker-mid="url(#sDO)" marker-end="url(#sDO)"/>
<polyline points="262.7,516.2 341.4,467.6 387.5,436.4 420.1,412.8 445.5,393.6 466.2,376.2 483.7,361.1 498.9,348.1 512.2,338.4 524.2,328.7 535.0,319.0 544.9,310.2 554.0,303.3 562.4,298.0 570.2,291.6 577.6,286.0 584.5,280.8 591.0,275.8 597.1,271.2 602.9,266.9 608.5,263.0 613.7,259.3 618.8,255.8 623.6,252.4 628.3,249.2 632.7,246.1 637.0,243.1 641.1,240.2 645.1,237.5 649.0,234.9 652.7,232.4 656.3,229.9 659.8,227.5 663.2,225.2 666.5,223.0 669.7,220.8 672.8,218.7 675.8,216.6 678.8,214.6 681.6,213.2 684.4,212.2 687.2,211.1 689.9,210.1 692.5,209.3 695.0,208.6 697.5,207.9 700.0,207.2 702.3,206.5 704.7,205.9 707.0,205.2 709.2,204.6 711.4,204.0 713.6,203.4 715.7,202.8 717.8,202.2 719.9,201.4 721.9,200.6 723.8,199.8 725.8,199.0 727.7,198.3 729.6,197.5 731.4,196.7 733.2,196.0 735.0,195.3 736.8,194.6 738.5,193.9 740.2,193.2 741.9,192.5 743.6,191.8 745.2,191.2 746.8,190.5 748.4,189.9 750.0,189.3 751.5,188.9 753.0,188.8 754.5,188.6 756.0,188.5 757.5,188.3 758.9,188.2 760.4,188.0 761.8,187.9 763.2,187.8 764.5,187.6 765.9,187.5 767.2,187.4 768.6,187.6 769.9,187.7 771.2,187.8 772.5,188.0 773.7,188.1 775.0,188.2 776.2,188.3 777.5,188.5 778.7,188.6 779.9,188.7 781.1,188.8 782.2,188.9 783.4,189.0 784.6,189.0 785.7,189.0 786.8,189.0 787.9,189.0 789.1,189.0 790.2,189.0 791.2,189.0 792.3,189.0 793.4,189.0 794.4,189.0 795.5,189.0 796.5,189.0 797.6,189.0 798.6,189.0 799.6,189.0 800.6,189.1 801.6,189.2 802.6,189.3 803.5,189.5 804.5,189.6 805.5,189.7 806.4,189.9 807.3,190.0 808.3,190.1 809.2,190.2 810.1,190.4 811.0,190.5 811.9,190.6 812.8,190.7 813.7,190.8 814.6,190.9 815.5,191.1 816.4,191.2 817.2,191.3 818.1,191.4 818.9,191.5 819.8,191.6 820.6,191.7 821.5,191.9 822.3,192.0 823.1,192.1 823.9,192.2 824.7,192.3 825.5,192.4 826.3,192.5 827.1,192.6 827.9,192.7 828.7,192.8 829.5,192.9 830.2,193.0 831.0,193.1 831.7,193.2 832.5,193.3 833.3,193.4 834.0,193.5 834.7,193.6 835.5,193.7 836.2,193.8 836.9,193.9 837.6,194.0 838.4,194.1 839.1,194.2 839.8,194.3 840.5,194.4 841.2,194.5 841.9,194.6 842.6,194.7 843.3,194.8 843.9,194.9 844.6,194.9 845.3,195.0 846.0,195.1 846.6,195.2 847.3,195.3 847.9,195.4 848.6,195.5 849.3,195.6 849.9,195.7 850.5,195.7 851.2,195.8 851.8,195.9 852.5,196.0 853.1,196.1 853.7,196.2 854.3,196.2 854.9,196.3 855.6,196.4 856.2,196.5 856.8,196.6 857.4,196.7 858.0,196.7 858.6,196.8 859.2,196.9 859.8,197.0 860.4,197.0 861.0,197.1 861.5,197.2 862.1,197.3 862.7,197.3 863.3,197.4 863.9,197.5 864.4,197.5 865.0,197.6 865.5,197.7 866.1,197.7 866.7,197.8 867.2,197.9 867.8,197.9 868.3,198.0 868.9,198.1 869.4,198.1 870.0,198.2 870.5,198.3 871.0,198.3 871.6,198.4 872.1,198.5 872.6,198.5 873.2,198.6 873.7,198.6 874.2,198.7 874.7,198.8 875.2,198.8 875.8,198.9 876.3,199.0 876.8,199.0 877.3,199.1 877.8,199.1 878.3,199.2 878.8,199.3 879.3,199.3 879.8,199.4 880.3,199.4 880.8,199.5 881.3,199.6 881.8,199.6 882.2,199.7 882.7,199.7 883.2,199.8 883.7,199.8 884.2,199.9 884.7,200.0 885.1,199.9 885.6,199.7 886.1,199.5 886.5,199.2 887.0,199.0 887.5,198.8 887.9,198.5 888.4,198.3 888.8,198.1 889.3,197.8 889.8,197.6 890.2,197.4 890.7,197.2 891.6,196.7 892.5,196.3 893.3,195.4 893.8,194.7 894.2,193.9 894.7,193.2 895.1,192.4 895.5,191.7 895.9,190.9 896.4,190.2 896.8,189.5 897.2,188.7 897.7,188.0 898.1,187.3 898.5,186.6 898.9,185.8 899.3,185.1 899.8,184.4 900.2,183.9 901.0,183.5 901.8,183.1 902.6,182.7 903.4,182.3 904.2,181.9 905.0,181.5 905.8,181.1 906.6,180.7 907.4,180.3 908.2,179.9 908.9,179.5 909.7,179.1 910.5,179.0 911.2,179.1 912.0,179.1 912.7,179.2 913.5,179.2 914.2,179.3 914.9,179.3 915.6,179.4 916.4,179.4 917.1,179.5 917.8,179.5 918.5,179.6 919.2,179.6 919.9,179.7 920.6,179.7 921.3,179.8 922.0,179.8 922.7,179.8 923.3,179.9 924.0,179.9 924.7,180.0 925.3,180.0 926.0,180.1 926.7,180.1 927.3,180.2 928.0,180.2 928.6,180.2 929.3,180.3 929.9,180.3 930.5,180.4 931.2,180.4 931.8,180.5 932.4,180.5 933.1,180.5 933.7,180.6 934.3,180.6 934.9,180.7 935.5,180.7 936.1,180.7 936.7,180.8 937.3,180.8 937.9,180.9 938.5,180.9 939.1,180.9 939.7,181.0 940.3,181.0 940.8,181.1 941.4,181.2 942.0,181.2 942.6,181.3 943.1,181.3 943.7,181.4 944.3,181.5 944.8,181.5 945.4,181.6 945.9,181.7 946.5,181.7 947.0,181.8 947.6,181.8 948.1,181.9 948.7,182.0 949.2,182.0 949.8,182.1 950.3,182.1 950.8,182.2 951.4,182.3 951.9,182.3 952.4,182.4 952.9,182.4 953.4,182.5 954.0,182.6 954.5,182.6 955.0,182.7 955.5,182.7 956.0,182.8 956.5,182.8 957.0,182.9 957.5,182.9 958.0,183.0 958.5,183.7 959.0,184.4 959.5,185.1 960.0,185.8 960.5,186.5 961.0,187.2 961.5,187.8 961.9,188.5 962.4,189.2 962.9,189.9 963.1,190.3 963.4,190.9 963.6,191.5 963.8,192.1 964.1,192.7 964.3,193.3 964.6,193.9 964.8,194.5 965.0,195.1 965.3,195.6 965.5,196.2 965.7,196.8 966.0,197.4 966.2,198.0 966.4,198.5 966.6,199.1 966.9,199.7 967.0,200.0" fill="none" stroke="none" marker-start="url(#sBO)" marker-mid="url(#sBO)" marker-end="url(#sBO)"/>
<polyline points="262.7,497.7 341.4,445.3 387.5,410.2 420.1,384.0 445.5,364.7 466.2,348.0 483.7,333.6 498.9,318.0 512.2,305.3 524.2,294.4 535.0,284.8 544.9,275.5 554.0,266.6 562.4,260.6 570.2,253.3 577.6,248.2 584.5,243.5 591.0,239.0 597.1,234.7 602.9,230.6 608.5,226.6 613.7,222.8 618.8,219.2 623.6,215.7 628.3,212.4 632.7,209.2 637.0,206.1 641.1,203.1 645.1,200.7 649.0,198.4 652.7,196.2 656.3,194.0 659.8,191.9 663.2,189.9 666.5,187.9 669.7,186.0 672.8,183.8 675.8,181.7 678.8,179.6 681.6,177.6 684.4,175.6 687.2,173.7 689.9,171.8 692.5,169.9 695.0,168.1 697.5,166.4 700.0,164.6 702.3,163.0 704.7,161.9 707.0,160.7 709.2,159.6 711.4,158.5 713.6,157.4 715.7,156.4 717.8,155.3 719.9,154.3 721.9,153.3 723.8,152.3 725.8,151.3 727.7,150.4 729.6,149.5 731.4,148.5 733.2,147.6 735.0,146.7 736.8,145.8 738.5,144.9 740.2,144.0 741.9,143.1 743.6,142.2 745.2,141.4 746.8,140.5 748.4,139.7 750.0,138.9 751.5,138.1 753.0,137.2 754.5,136.5 756.0,135.7 757.5,134.9 758.9,134.1 760.4,133.4 761.8,132.6 763.2,131.9 764.5,131.2 765.9,130.5 767.2,129.7 768.6,128.7 769.9,127.8 771.2,126.8 772.5,125.9 773.7,125.0 775.0,124.1 776.2,123.2 777.5,122.3 778.7,121.4 779.9,120.5 781.1,119.9 782.2,119.6 783.4,119.4 784.6,119.1 785.7,118.9 786.8,118.6 787.9,118.4 789.1,118.2 790.2,117.9 791.2,117.7 792.3,117.5 793.4,117.2 794.4,117.0 795.5,116.8 796.5,116.5 797.6,116.3 798.6,116.1 799.6,115.6 800.6,115.0 801.6,114.4 802.6,113.8 803.5,113.2 804.5,112.6 805.5,112.0 806.4,111.4 807.3,110.8 808.3,110.3 809.2,109.7 810.1,109.1 811.0,108.5 811.9,108.0 812.8,107.4 813.7,106.9 814.6,106.3 815.5,105.8 816.4,105.3 817.2,104.7 818.1,104.2 818.9,103.7 819.8,103.1 820.6,102.6 821.5,102.1 822.3,101.6 823.1,101.1 823.9,100.6 824.7,100.1 825.5,99.6 826.3,99.1 827.1,98.6 827.9,98.1 828.7,97.6 829.5,97.2 830.2,96.6 831.0,96.1 831.7,95.6 832.5,95.1 833.3,94.6 834.0,94.1 834.7,93.6 835.5,93.1 836.2,92.6 836.9,92.1 837.6,91.6 838.4,91.1 839.1,90.6 839.8,90.1 840.5,89.9 841.2,89.7 841.9,89.6 842.6,89.4 843.3,89.2 843.9,89.1 844.6,88.9 845.3,88.8 846.0,88.6 846.6,88.5 847.3,88.3 847.9,88.2 848.6,88.0 849.3,87.9 849.9,87.7 850.5,87.6 851.2,87.4 851.8,87.3 852.5,87.1 853.1,87.0 853.7,86.8 854.3,86.7 854.9,86.5 855.6,86.4 856.2,86.3 856.8,86.1 857.4,86.0 858.0,85.8 858.6,85.7 859.2,85.6 859.8,85.4 860.4,85.3 861.0,85.1 861.5,85.0 862.1,85.1 862.7,85.2 863.3,85.3 863.9,85.5 864.4,85.6 865.0,85.7 865.5,85.8 866.1,85.9 866.7,86.0 867.2,86.1 867.8,86.2 868.3,86.4 868.9,86.5 869.4,86.6 870.0,86.7 870.5,86.8 871.0,86.9 871.6,87.0 872.1,87.1 872.6,87.2 873.2,87.3 873.7,87.4 874.2,87.5 874.7,87.6 875.2,87.7 875.8,87.8 876.3,87.9 876.8,88.0 877.3,88.2 877.8,88.3 878.3,88.4 878.8,88.5 879.3,88.6 879.8,88.7 880.3,88.8 880.8,88.9 881.3,89.0 881.8,89.0 882.2,89.1 882.7,89.2 883.2,89.3 883.7,89.4 884.2,89.5 884.7,89.6 885.1,89.7 885.6,89.8 886.1,89.9 886.5,90.0 887.0,90.3 887.5,90.6 887.9,90.8 888.4,91.1 888.8,91.4 889.3,91.6 889.8,91.9 890.2,92.2 890.7,92.4 891.6,92.9 892.5,93.5 893.3,94.0 894.2,94.5 895.1,95.0 895.9,95.5 896.8,96.0 897.7,96.5 898.5,97.0 899.3,97.5 900.2,97.9 901.0,98.4 901.8,98.9 902.6,98.3 903.0,97.8 903.4,97.4 903.8,96.9 904.2,96.5 905.0,95.6 905.8,94.7 906.6,93.8 907.4,92.9 908.2,92.1 908.9,91.2 909.7,90.3 910.1,89.9 910.5,89.3 910.8,88.8 911.2,88.3 911.6,87.7 912.0,87.2 912.3,86.7 912.7,86.1 913.1,85.6 913.5,85.1 913.8,84.5 914.2,84.0 914.6,83.5 914.9,83.0 915.3,82.5 915.6,81.9 916.0,81.4 916.4,80.9 916.7,80.4 917.4,80.4 918.2,81.2 918.9,81.9 919.6,82.6 920.3,83.3 920.9,83.9 921.6,84.6 922.3,85.3 923.0,86.0 923.7,86.7 924.3,87.3 925.0,88.0 925.7,88.6 926.3,89.1 927.0,89.6 927.6,90.2 928.3,90.7 928.9,91.2 929.6,91.8 930.2,92.3 930.9,92.8 931.5,93.3 932.1,93.8 932.7,94.3 933.4,94.8 934.0,95.3 934.6,95.8 935.2,96.3 935.8,96.8 936.4,97.1 937.0,97.3 937.6,97.4 938.2,97.6 938.8,97.7 939.4,97.9 940.0,98.1 940.6,98.2 941.1,98.4 941.7,98.5 942.3,98.7 942.9,98.8 943.4,99.0 944.0,99.1 944.5,99.3 945.1,99.4 945.7,99.6 946.2,99.7 946.8,99.9 947.3,100.0 947.9,100.1 948.4,100.3 948.9,100.4 949.5,100.6 950.0,100.7 950.6,100.9 951.1,101.0 951.6,101.1 952.1,101.3 952.7,101.4 953.2,101.5 953.7,101.6 954.2,101.7 954.7,101.7 955.2,101.8 955.8,101.9 956.3,101.9 956.8,102.0 957.3,102.1 957.8,102.1 958.3,102.2 958.8,102.3 959.3,102.4 959.7,102.4 960.2,102.5 960.7,102.5 961.2,102.6 961.7,102.7 962.2,102.7 962.7,102.8 963.1,102.9 963.6,102.9 964.1,103.0 964.6,103.1 965.0,103.1 965.5,103.2 966.0,103.3 966.4,103.3 966.9,103.4 967.3,103.4 967.8,103.5 968.3,103.6 968.5,103.6" fill="none" stroke="none" marker-start="url(#sCO)" marker-mid="url(#sCO)" marker-end="url(#sCO)"/>
<polyline points="262.7,527.5 341.4,482.0 387.5,452.1 420.1,428.6 445.5,409.3 466.2,393.4 483.7,378.7 498.9,365.4 512.2,352.9 524.2,342.0 535.0,331.9 544.9,323.5 554.0,315.8 562.4,309.4 570.2,303.7 577.6,297.0 584.5,290.6 591.0,284.7 597.1,279.0 602.9,273.5 608.5,268.0 613.7,262.7 618.8,257.7 623.6,252.8 628.3,248.2 632.7,243.8 637.0,239.5 641.1,235.4 645.1,231.9 649.0,228.5 652.7,225.2 656.3,222.0 659.8,219.0 663.2,216.0 666.5,213.1 669.7,210.3 672.8,207.6 675.8,205.0 678.8,202.5 681.6,200.0 684.4,197.6 687.2,195.3 689.9,193.0 692.5,190.8 695.0,188.6 697.5,186.4 700.0,184.4 702.3,182.3 704.7,180.1 707.0,177.9 709.2,175.8 711.4,173.7 713.6,171.7 715.7,169.7 717.8,167.7 719.9,165.8 721.9,163.9 723.8,162.0 725.8,160.2 727.7,158.4 729.6,156.6 731.4,154.9 733.2,153.2 735.0,151.8 736.8,151.1 738.5,150.4 740.2,149.7 741.9,149.0 743.6,148.4 745.2,147.7 746.8,147.0 748.4,146.4 750.0,145.8 751.5,145.2 753.0,144.5 754.5,143.9 756.0,143.3 757.5,142.7 758.9,142.2 760.4,141.6 761.8,141.0 763.2,140.5 764.5,139.9 765.9,139.4 767.2,138.9 768.6,138.7 769.9,138.5 771.2,138.3 772.5,138.1 773.7,137.9 775.0,137.8 776.2,137.6 777.5,137.4 778.7,137.2 779.9,137.0 781.1,137.0 782.2,137.0 783.4,137.0 784.6,137.0 785.7,137.0 786.8,137.0 787.9,137.0 789.1,137.0 790.2,137.0 791.2,137.0 792.3,137.0 793.4,137.0 794.4,137.0 795.5,137.0 796.5,137.0 797.6,137.0 798.6,137.0 799.6,136.6 800.6,135.9 801.6,135.2 802.6,134.6 803.5,133.9 804.5,133.2 805.5,132.6 806.4,131.9 807.3,131.3 808.3,130.6 809.2,130.0 810.1,129.3 811.0,128.7 811.9,128.1 812.8,127.5 813.7,126.9 814.6,126.3 815.5,125.9 816.4,125.6 817.2,125.4 818.1,125.2 818.9,124.9 819.8,124.7 820.6,124.5 821.5,124.3 822.3,124.1 823.1,123.8 823.9,123.6 824.7,123.4 825.5,123.2 826.3,123.0 827.1,122.8 827.9,122.6 828.7,122.4 829.5,122.1 830.2,122.0 831.0,121.8 831.7,121.7 832.5,121.6 833.3,121.5 834.0,121.3 834.7,121.2 835.5,121.1 836.2,121.0 836.9,120.8 837.6,120.7 838.4,120.6 839.1,120.5 839.8,120.4 840.5,120.3 841.2,120.1 841.9,120.0 842.6,119.9 843.3,119.8 843.9,119.7 844.6,119.6 845.3,119.5 846.0,119.3 846.6,119.2 847.3,119.1 847.9,119.0 848.6,118.9 849.3,118.8 849.9,118.7 850.5,118.6 851.2,118.5 851.8,118.4 852.5,118.3 853.1,118.2 853.7,118.0 854.3,117.9 854.9,117.8 855.6,117.7 856.2,117.6 856.8,117.5 857.4,117.4 858.0,117.3 858.6,117.2 859.2,117.1 859.8,117.0 860.4,116.9 861.0,116.7 861.5,116.6 862.1,116.4 862.7,116.3 863.3,116.1 863.9,116.0 864.4,115.8 865.0,115.7 865.5,115.5 866.1,115.4 866.7,115.2 867.2,115.1 867.8,115.0 868.3,114.8 868.9,114.7 869.4,114.5 870.0,114.4 870.5,114.2 871.0,114.1 871.6,114.0 872.1,113.8 872.6,113.7 873.2,113.5 873.7,113.4 874.2,113.3 874.7,113.1 875.2,113.0 875.8,112.9 876.3,112.7 876.8,112.6 877.3,112.5 877.8,112.3 878.3,112.2 878.8,112.1 879.3,112.3 879.8,112.7 880.3,113.1 880.8,113.5 881.3,114.0 881.8,114.4 882.2,114.8 882.7,115.2 883.2,115.6 883.7,116.0 884.2,116.4 884.7,116.9 885.1,117.3 885.6,117.7 886.1,118.1 886.5,118.5 887.0,118.9 887.5,119.3 887.9,119.7 888.4,120.1 888.8,120.5 889.3,120.9 889.8,121.2 890.2,121.6 890.7,122.0 891.6,122.8 892.5,123.6 893.3,124.3 894.2,125.1 895.1,125.8 895.9,126.1 896.8,126.2 897.7,126.3 898.5,126.4 899.3,126.5 900.2,126.6 901.0,126.8 901.8,126.9 902.6,127.0 903.4,127.1 904.2,127.2 905.0,127.3 905.8,127.4 906.6,127.5 907.4,127.6 908.2,127.7 908.9,127.8 909.7,127.9 910.5,128.0 911.2,127.7 912.0,127.4 912.7,127.1 913.5,126.8 914.2,126.5 914.9,126.2 915.6,125.9 916.4,125.6 917.1,125.3 917.8,125.1 918.5,124.8 919.2,124.5 919.9,124.2 920.6,124.0 921.3,123.7 922.0,123.4 922.7,123.1 923.3,123.1 924.0,123.4 924.7,123.7 925.3,124.0 926.0,124.3 926.7,124.6 927.3,124.9 928.0,125.2 928.6,125.5 929.3,125.7 929.9,126.0 930.5,126.3 931.2,126.6 931.8,126.8 932.4,127.1 933.1,127.4 933.7,127.7 934.3,127.9 934.9,128.2 935.5,128.5 936.1,128.3 936.7,128.1 937.3,127.9 937.9,127.7 938.5,127.5 939.1,127.3 939.7,127.0 940.3,126.8 940.8,126.6 941.4,126.4 942.0,126.2 942.6,126.0 943.1,125.8 943.7,125.6 944.3,125.4 944.8,125.2 945.4,125.0 945.9,124.8 946.5,124.6 947.0,124.4 947.6,124.2 948.1,124.0 948.7,124.2 949.2,124.4 949.8,124.6 950.3,124.8 950.8,125.0 951.4,125.3 951.9,125.5 952.4,125.7 952.9,125.9 953.4,126.1 954.0,126.3 954.5,126.5 955.0,126.7 955.5,126.9 956.0,127.1 956.5,127.3 957.0,127.5 957.5,127.7 958.0,127.9 958.5,128.1 959.0,128.3 959.5,128.5 960.0,128.7 960.5,128.9 961.0,128.7 961.5,127.8 961.9,127.0 962.4,126.1 962.9,125.3 963.4,124.4 963.8,123.6 964.3,122.8 964.8,121.9 965.3,121.1 965.7,120.3 966.2,119.4 966.6,118.6 967.0,118.0 967.0,118.0" fill="none" stroke="none" marker-start="url(#sNO)" marker-mid="url(#sNO)" marker-end="url(#sNO)"/>
<polyline points="263.6,487.8 295.4,464.4 325.6,441.7 355.9,417.5 386.1,391.8 399.7,382.7 420.3,368.0 440.0,352.0 460.6,338.7 480.0,326.0 501.0,314.3 521.1,304.5 541.3,296.5 561.5,290.3 579.6,284.2 592.0,280.0 610.0,274.5 624.5,271.6 640.6,265.0 656.8,252.3 672.9,243.0 689.0,243.5 700.0,240.5 716.0,243.2 727.4,249.0 745.2,247.5 754.8,250.0 764.5,260.0 771.0,265.0 779.0,260.5 783.9,254.5 796.8,249.7 806.5,235.2 812.9,232.0 822.6,238.4 837.0,240.0 848.4,234.0 855.0,238.0 862.0,242.0 876.5,246.3 888.2,242.0 895.5,229.0 902.9,237.5 906.0,249.0 920.4,249.2 935.0,253.6 954.0,256.5 964.2,248.0 970.5,245.0" fill="none" stroke="#000" stroke-width="12.4" stroke-linejoin="round" stroke-linecap="round"/><polyline points="592.0,280.0 610.0,274.5 624.5,271.6 640.6,265.0 656.8,252.3 672.9,243.0 689.0,243.5 700.0,240.5 716.0,243.2 727.4,249.0 745.2,247.5 754.8,250.0 764.5,260.0 771.0,265.0 779.0,260.5 783.9,254.5 796.8,249.7 806.5,235.2 812.9,232.0 822.6,238.4 837.0,240.0 848.4,234.0 855.0,238.0 862.0,242.0 876.5,246.3 888.2,242.0 895.5,229.0 902.9,237.5 906.0,249.0 920.4,249.2 935.0,253.6 954.0,256.5 964.2,248.0 970.5,245.0" fill="none" stroke="#000" stroke-width="14.2" stroke-linejoin="round" stroke-linecap="round"/>
<polyline points="263.1,1171.4 341.8,1160.5 387.9,1153.4 420.5,1147.4 445.9,1142.4 466.6,1137.8 484.1,1133.4 499.3,1129.4 512.6,1122.8 524.6,1117.0 535.4,1111.7 545.3,1106.8 554.4,1102.4 562.8,1098.2 570.6,1094.4 578.0,1090.8 584.9,1087.4 591.4,1084.2 597.5,1081.2 603.3,1079.0 608.9,1077.5 614.1,1075.9 619.2,1074.5 624.0,1073.1 628.7,1071.8 633.1,1070.5 637.4,1069.2 641.5,1068.1 645.5,1066.9 649.4,1065.8 653.1,1064.7 656.7,1063.7 660.2,1062.7 663.6,1061.7 666.9,1060.8 670.1,1059.9 673.2,1059.0 676.2,1058.1 679.2,1057.2 682.0,1056.5 684.8,1055.8 687.6,1055.2 690.3,1054.5 692.9,1053.9 695.4,1053.3 697.9,1052.7 700.4,1052.1 702.7,1051.5 705.1,1050.9 707.4,1050.4 709.6,1049.8 711.8,1049.3 714.0,1048.8 716.1,1048.3 718.2,1047.8 720.3,1047.3 722.3,1046.8 724.2,1046.3 726.2,1045.8 728.1,1045.4 730.0,1044.9 731.8,1044.5 733.6,1044.0 735.4,1043.6 737.2,1043.2 738.9,1042.8 740.6,1042.3 742.3,1041.9 744.0,1041.5 745.6,1041.1 747.2,1040.8 748.8,1040.4 750.4,1040.0 751.9,1039.6 753.4,1039.2 754.9,1038.9 756.4,1038.5 757.9,1038.2 759.3,1037.8 760.8,1037.5 762.2,1037.1 763.6,1036.8 764.9,1036.5 766.3,1036.1 767.6,1035.8 769.0,1035.5 770.3,1035.2 771.6,1034.8 772.9,1034.2 774.1,1033.7 775.4,1033.2 776.6,1032.7 777.9,1032.2 779.1,1031.7 780.3,1031.2 781.5,1030.7 782.6,1030.2 783.8,1029.8 785.0,1029.3 786.1,1028.8 787.2,1028.4 788.3,1027.9 789.5,1027.5 790.6,1027.0 791.6,1026.6 792.7,1026.1 793.8,1025.7 794.8,1025.3 795.9,1024.8 796.9,1024.4 798.0,1024.0 799.0,1023.6 800.0,1023.2 801.0,1022.8 802.0,1022.3 803.0,1021.9 803.9,1021.5 804.9,1021.2 805.9,1020.8 806.8,1020.4 807.7,1020.0 808.7,1019.6 809.6,1019.2 810.5,1018.9 811.4,1018.5 812.3,1018.1 813.2,1017.7 814.1,1017.4 815.0,1017.0 815.9,1016.7 816.8,1016.3 817.6,1016.0 818.5,1015.6 819.3,1015.3 820.2,1014.9 821.0,1014.6 821.9,1014.2 822.7,1013.9 823.5,1013.6 824.3,1013.2 825.1,1012.9 825.9,1012.6 826.7,1012.2 827.5,1011.9 828.3,1011.6 829.1,1011.3 829.9,1011.0 830.6,1010.6 831.4,1010.3 832.1,1010.0 832.9,1009.7 833.7,1009.4 834.4,1009.1 835.1,1008.8 835.9,1008.5 836.6,1008.2 837.3,1007.9 838.0,1007.6 838.8,1007.3 839.5,1007.0 840.2,1006.7 840.9,1006.5 841.6,1006.2 842.3,1005.9 843.0,1005.7 843.7,1005.5 844.3,1005.2 845.0,1005.0 845.7,1004.8 846.4,1004.6 847.0,1004.4 847.7,1004.2 848.3,1004.0 849.0,1003.7 849.7,1003.5 850.3,1003.3 850.9,1003.1 851.6,1002.9 852.2,1002.7 852.9,1002.5 853.5,1002.3 854.1,1002.1 854.7,1001.9 855.3,1001.7 856.0,1001.5 856.6,1001.3 857.2,1001.1 857.8,1000.9 858.4,1000.7 859.0,1000.5 859.6,1000.3 860.2,1000.2 860.8,1000.0 861.4,999.8 861.9,999.6 862.5,999.4 863.1,999.2 863.7,999.0 864.3,998.8 864.8,998.7 865.4,998.5 865.9,998.3 866.5,998.1 867.1,997.9 867.6,997.8 868.2,997.6 868.7,997.4 869.3,997.2 869.8,997.1 870.4,996.9 870.9,996.7 871.4,996.6 872.0,996.4 872.5,996.3 873.0,996.1 873.6,996.0 874.1,995.8 874.6,995.6 875.1,995.5 875.6,995.3 876.2,995.2 876.7,995.0 877.2,994.9 877.7,994.7 878.2,994.6 878.7,994.4 879.2,994.3 879.7,994.1 880.2,994.0 880.7,993.9 881.2,993.7 881.7,993.6 882.2,993.4 882.6,993.3 883.1,993.1 883.6,993.0 884.1,992.9 884.6,992.7 885.1,992.6 885.5,992.4 886.0,992.3 886.5,992.2 886.9,992.0 887.4,991.8 887.9,991.5 888.3,991.2 888.8,991.0 889.2,990.7 889.7,990.5 890.2,990.2 890.6,989.9 891.1,989.7 892.0,989.2 892.9,988.7 893.7,988.1 894.6,987.6 895.5,987.2 896.3,986.7 897.2,986.2 898.1,985.7 898.9,985.2 899.7,984.7 900.6,984.2 901.4,984.0 902.2,984.0 903.0,984.0 903.8,984.0 904.6,984.0 905.4,984.0 906.2,984.0 907.0,984.0 907.8,984.0 908.6,984.0 909.3,984.0 910.1,984.0 910.9,984.0 911.6,984.0 912.4,984.0 913.1,984.0 913.9,984.0 914.6,984.0 915.3,984.0 916.0,984.0 916.8,984.0 917.5,984.0 918.2,984.0 918.9,984.0 919.6,984.0 920.3,984.0 921.0,984.0 921.7,984.0 922.4,984.0 923.1,983.9 923.7,983.8 924.4,983.8 925.1,983.7 925.7,983.6 926.4,983.6 927.1,983.5 927.7,983.5 928.4,983.4 929.0,983.3 929.7,983.3 930.3,983.2 930.9,983.1 931.6,983.1 932.2,983.0 932.8,983.0 933.5,982.9 934.1,982.9 934.7,982.8 935.3,982.7 935.9,982.7 936.5,982.6 937.1,982.6 937.7,982.5 938.3,982.4 938.9,982.4 939.5,982.3 940.1,982.3 940.7,982.2 941.2,982.2 941.8,982.1 942.4,982.1 943.0,982.0 943.5,982.0 944.1,982.0 944.7,982.0 945.2,982.0 945.8,982.0 946.3,982.0 946.9,982.0 947.4,982.0 948.0,982.0 948.5,982.0 949.1,982.0 949.6,982.0 950.2,982.0 950.7,982.0 951.2,982.0 951.8,982.0 952.3,982.0 952.8,982.0 953.3,982.0 953.8,982.0 954.4,982.0 954.9,982.0 955.4,982.0 955.9,982.0 956.4,982.0 956.9,982.0 957.4,982.0 957.9,982.0 958.4,982.0 958.9,982.0 959.4,982.0 959.9,982.0 960.4,982.0 960.9,982.0 961.4,982.0 961.9,982.0 962.3,982.0 962.8,982.0 963.3,982.0 963.8,982.0 964.2,982.0 964.7,982.0 965.2,982.1 965.7,982.5 966.1,982.9 966.6,983.3 967.0,983.6 967.5,984.0 968.0,984.4 968.4,984.7 968.9,985.1" fill="none" stroke="none" marker-start="url(#tWF)" marker-mid="url(#tWF)" marker-end="url(#tWF)"/>
<polyline points="263.1,1159.0 341.8,1140.0 387.9,1129.0 420.5,1120.0 445.9,1115.0 466.6,1109.0 484.1,1104.0 499.3,1097.0 512.6,1092.4 524.6,1088.2 535.4,1084.4 545.3,1081.0 554.4,1077.8 562.8,1074.9 570.6,1072.2 578.0,1069.7 584.9,1067.3 591.4,1065.0 597.5,1062.9 603.3,1061.4 608.9,1060.4 614.1,1059.5 619.2,1058.5 624.0,1057.7 628.7,1056.8 633.1,1056.0 637.4,1055.3 641.5,1054.5 645.5,1053.8 649.4,1053.1 653.1,1052.4 656.7,1051.8 660.2,1051.2 663.6,1050.6 666.9,1050.0 670.1,1049.4 673.2,1048.8 676.2,1048.3 679.2,1047.8 682.0,1047.2 684.8,1046.7 687.6,1046.2 690.3,1045.8 692.9,1045.3 695.4,1044.8 697.9,1044.4 700.4,1043.9 702.7,1043.5 705.1,1043.1 707.4,1042.7 709.6,1042.3 711.8,1041.9 714.0,1041.6 716.1,1041.2 718.2,1040.8 720.3,1040.5 722.3,1040.1 724.2,1039.8 726.2,1039.4 728.1,1039.1 730.0,1038.8 731.8,1038.4 733.6,1038.1 735.4,1037.8 737.2,1037.5 738.9,1037.2 740.6,1036.9 742.3,1036.6 744.0,1036.3 745.6,1036.0 747.2,1035.7 748.8,1035.5 750.4,1035.2 751.9,1034.9 753.4,1034.7 754.9,1034.4 756.4,1034.1 757.9,1033.9 759.3,1033.6 760.8,1033.4 762.2,1033.1 763.6,1032.9 764.9,1032.6 766.3,1032.4 767.6,1032.2 769.0,1031.9 770.3,1031.7 771.6,1031.5 772.9,1031.2 774.1,1031.0 775.4,1030.8 776.6,1030.6 777.9,1030.4 779.1,1030.2 780.3,1029.9 781.5,1029.6 782.6,1029.2 783.8,1028.9 785.0,1028.6 786.1,1028.2 787.2,1027.9 788.3,1027.6 789.5,1027.3 790.6,1026.9 791.6,1026.6 792.7,1026.3 793.8,1026.0 794.8,1025.7 795.9,1025.4 796.9,1025.1 798.0,1024.8 799.0,1024.5 800.0,1024.2 801.0,1023.9 802.0,1023.6 803.0,1023.3 803.9,1023.1 804.9,1022.8 805.9,1022.5 806.8,1022.2 807.7,1021.9 808.7,1021.7 809.6,1021.4 810.5,1021.1 811.4,1020.9 812.3,1020.6 813.2,1020.3 814.1,1020.1 815.0,1019.8 815.9,1019.6 816.8,1019.3 817.6,1019.1 818.5,1018.8 819.3,1018.6 820.2,1018.3 821.0,1018.1 821.9,1017.8 822.7,1017.6 823.5,1017.4 824.3,1017.1 825.1,1016.9 825.9,1016.7 826.7,1016.4 827.5,1016.2 828.3,1016.0 829.1,1015.8 829.9,1015.5 830.6,1015.3 831.4,1015.1 832.1,1014.9 832.9,1014.6 833.7,1014.4 834.4,1014.2 835.1,1014.0 835.9,1013.8 836.6,1013.6 837.3,1013.4 838.0,1013.1 838.8,1012.9 839.5,1012.7 840.2,1012.5 840.9,1012.3 841.6,1012.1 842.3,1011.9 843.0,1011.7 843.7,1011.5 844.3,1011.3 845.0,1011.1 845.7,1010.8 846.4,1010.6 847.0,1010.4 847.7,1010.2 848.3,1010.0 849.0,1009.8 849.7,1009.6 850.3,1009.4 850.9,1009.2 851.6,1009.0 852.2,1008.8 852.9,1008.6 853.5,1008.4 854.1,1008.2 854.7,1008.0 855.3,1007.8 856.0,1007.6 856.6,1007.4 857.2,1007.3 857.8,1007.1 858.4,1006.9 859.0,1006.7 859.6,1006.5 860.2,1006.3 860.8,1006.1 861.4,1005.9 861.9,1005.8 862.5,1005.6 863.1,1005.4 863.7,1005.2 864.3,1005.0 864.8,1004.9 865.4,1004.7 865.9,1004.5 866.5,1004.3 867.1,1004.2 867.6,1004.0 868.2,1003.8 868.7,1003.6 869.3,1003.5 869.8,1003.3 870.4,1003.1 870.9,1003.0 871.4,1002.8 872.0,1002.6 872.5,1002.5 873.0,1002.3 873.6,1002.1 874.1,1002.0 874.6,1001.8 875.1,1001.6 875.6,1001.5 876.2,1001.3 876.7,1001.2 877.2,1001.0 877.7,1000.8 878.2,1000.7 878.7,1000.5 879.2,1000.4 879.7,1000.2 880.2,1000.1 880.7,999.9 881.2,999.8 881.7,999.6 882.2,999.4 882.6,999.3 883.1,999.1 883.6,999.0 884.1,998.8 884.6,998.7 885.1,998.5 885.5,998.4 886.0,998.3 886.5,998.1 886.9,998.0 887.4,997.8 887.9,997.7 888.3,997.5 888.8,997.4 889.2,997.2 889.7,997.1 890.2,996.9 890.6,996.8 891.1,996.7 892.0,996.4 892.9,996.1 893.7,995.8 894.6,995.5 895.5,995.3 896.3,995.0 897.2,994.7 898.1,994.5 898.9,994.2 899.7,993.9 900.6,993.7 901.4,993.4 902.2,993.2 903.0,992.9 903.8,992.7 904.6,992.4 905.4,992.1 906.2,991.9 907.0,991.7 907.8,991.4 908.6,991.2 909.3,990.9 910.1,990.7 910.9,990.4 911.6,990.2 912.4,990.0 913.1,989.7 913.9,989.5 914.6,989.3 915.3,989.0 916.0,988.8 916.8,988.6 917.5,988.4 918.2,988.1 918.9,987.9 919.6,987.7 920.3,987.5 921.0,987.3 921.7,987.0 922.4,986.8 923.1,986.6 923.7,986.4 924.4,986.2 925.1,986.0 925.7,985.8 926.4,985.7 927.1,985.5 927.7,985.3 928.4,985.2 929.0,985.0 929.7,984.9 930.3,984.7 930.9,984.6 931.6,984.4 932.2,984.3 932.8,984.1 933.5,984.0 934.1,983.8 934.7,983.7 935.3,983.5 935.9,983.4 936.5,983.2 937.1,983.1 937.7,982.9 938.3,982.8 938.9,982.7 939.5,982.5 940.1,982.4 940.7,982.2 941.2,982.1 941.8,982.0 942.4,981.8 943.0,981.7 943.5,981.6 944.1,981.4 944.7,981.3 945.2,981.1 945.8,981.0 946.3,980.9 946.9,980.7 947.4,980.6 948.0,980.5 948.5,980.4 949.1,980.2 949.6,980.1 950.2,979.9 950.7,979.5 951.2,979.2 951.8,978.8 952.3,978.5 952.8,978.1 953.3,977.8 953.8,977.4 954.4,977.1 954.9,976.7 955.4,976.4 955.9,976.1 956.4,975.7 956.9,975.4 957.4,975.1 957.9,974.7 958.4,974.4 958.9,974.1 959.4,973.7 959.9,973.4 960.4,973.1 960.9,972.7 961.4,972.4 961.9,972.1 962.3,972.1 962.8,972.3 963.3,972.5 963.8,972.7 964.2,972.9 964.7,973.1 965.2,973.3 965.7,973.5 966.1,973.6 966.6,973.8 967.0,974.0 967.5,974.2 968.0,974.4 968.4,974.6 968.9,974.8" fill="none" stroke="none" marker-start="url(#tVF)" marker-mid="url(#tVF)" marker-end="url(#tVF)"/>
<polyline points="263.1,1171.4 341.8,1160.5 387.9,1153.4 420.5,1147.4 445.9,1142.4 466.6,1137.8 484.1,1133.4 499.3,1129.4 512.6,1126.4 524.6,1123.8 535.4,1121.4 545.3,1119.2 554.4,1117.1 562.8,1115.3 570.6,1113.5 578.0,1111.9 584.9,1110.4 591.4,1108.9 597.5,1107.6 603.3,1106.1 608.9,1104.7 614.1,1103.4 619.2,1102.0 624.0,1100.8 628.7,1099.6 633.1,1098.5 637.4,1097.4 641.5,1096.3 645.5,1095.3 649.4,1094.3 653.1,1093.3 656.7,1092.4 660.2,1091.5 663.6,1090.6 666.9,1089.8 670.1,1088.9 673.2,1088.1 676.2,1087.3 679.2,1086.6 682.0,1085.8 684.8,1085.1 687.6,1084.4 690.3,1083.7 692.9,1083.0 695.4,1082.4 697.9,1081.7 700.4,1081.1 702.7,1080.4 705.1,1079.7 707.4,1079.0 709.6,1078.3 711.8,1077.7 714.0,1077.0 716.1,1076.4 718.2,1075.7 720.3,1075.1 722.3,1074.5 724.2,1073.9 726.2,1073.3 728.1,1072.8 730.0,1072.2 731.8,1071.6 733.6,1071.1 735.4,1070.6 737.2,1070.0 738.9,1069.5 740.6,1069.0 742.3,1068.5 744.0,1068.0 745.6,1067.5 747.2,1067.0 748.8,1066.5 750.4,1066.0 751.9,1065.6 753.4,1065.1 754.9,1064.7 756.4,1064.2 757.9,1063.8 759.3,1063.3 760.8,1062.9 762.2,1062.5 763.6,1062.1 764.9,1061.6 766.3,1061.2 767.6,1060.8 769.0,1060.4 770.3,1060.0 771.6,1059.6 772.9,1059.3 774.1,1058.9 775.4,1058.5 776.6,1058.1 777.9,1057.7 779.1,1057.4 780.3,1057.0 781.5,1056.7 782.6,1056.4 783.8,1056.2 785.0,1055.9 786.1,1055.6 787.2,1055.3 788.3,1055.0 789.5,1054.7 790.6,1054.5 791.6,1054.2 792.7,1053.9 793.8,1053.7 794.8,1053.4 795.9,1053.1 796.9,1052.9 798.0,1052.6 799.0,1052.4 800.0,1052.1 801.0,1051.9 802.0,1051.6 803.0,1051.4 803.9,1051.1 804.9,1050.9 805.9,1050.7 806.8,1050.4 807.7,1050.2 808.7,1049.9 809.6,1049.7 810.5,1049.5 811.4,1049.3 812.3,1049.0 813.2,1048.8 814.1,1048.6 815.0,1048.4 815.9,1048.1 816.8,1047.9 817.6,1047.7 818.5,1047.5 819.3,1047.3 820.2,1047.1 821.0,1046.9 821.9,1046.7 822.7,1046.4 823.5,1046.2 824.3,1046.0 825.1,1045.8 825.9,1045.6 826.7,1045.4 827.5,1045.2 828.3,1045.0 829.1,1044.8 829.9,1044.6 830.6,1044.4 831.4,1044.2 832.1,1044.0 832.9,1043.8 833.7,1043.6 834.4,1043.4 835.1,1043.2 835.9,1043.0 836.6,1042.8 837.3,1042.6 838.0,1042.4 838.8,1042.2 839.5,1042.1 840.2,1041.9 840.9,1041.7 841.6,1041.5 842.3,1041.3 843.0,1041.1 843.7,1041.0 844.3,1040.8 845.0,1040.6 845.7,1040.4 846.4,1040.3 847.0,1040.1 847.7,1039.9 848.3,1039.7 849.0,1039.6 849.7,1039.4 850.3,1039.2 850.9,1039.1 851.6,1038.9 852.2,1038.7 852.9,1038.6 853.5,1038.4 854.1,1038.2 854.7,1038.1 855.3,1037.9 856.0,1037.8 856.6,1037.6 857.2,1037.4 857.8,1037.3 858.4,1037.1 859.0,1037.0 859.6,1036.8 860.2,1036.7 860.8,1036.5 861.4,1036.3 861.9,1036.2 862.5,1036.0 863.1,1035.9 863.7,1035.8 864.3,1035.7 864.8,1035.6 865.4,1035.5 865.9,1035.4 866.5,1035.3 867.1,1035.1 867.6,1035.0 868.2,1034.9 868.7,1034.8 869.3,1034.7 869.8,1034.6 870.4,1034.5 870.9,1034.4 871.4,1034.3 872.0,1034.2 872.5,1034.1 873.0,1034.0 873.6,1033.9 874.1,1033.8 874.6,1033.7 875.1,1033.6 875.6,1033.5 876.2,1033.4 876.7,1033.3 877.2,1033.2 877.7,1033.1 878.2,1033.0 878.7,1032.9 879.2,1032.8 879.7,1032.7 880.2,1032.6 880.7,1032.5 881.2,1032.4 881.7,1032.3 882.2,1032.3 882.6,1032.2 883.1,1032.1 883.6,1032.1 884.1,1032.0 884.6,1031.9 885.1,1031.8 885.5,1031.8 886.0,1031.7 886.5,1031.6 886.9,1031.6 887.4,1031.5 887.9,1031.4 888.3,1031.4 888.8,1031.3 889.2,1031.2 889.7,1031.1 890.2,1031.1 890.6,1031.0 891.1,1030.9 892.0,1030.8 892.9,1030.7 893.7,1030.5 894.6,1030.4 895.5,1030.3 896.3,1030.1 897.2,1030.0 898.1,1029.9 898.9,1029.8 899.7,1029.6 900.6,1029.5 901.4,1029.4 902.2,1029.3 903.0,1029.1 903.8,1029.0 904.6,1028.9 905.4,1028.8 906.2,1028.7 907.0,1028.5 907.8,1028.4 908.6,1028.3 909.3,1028.2 910.1,1028.1 910.9,1028.0 911.6,1027.9 912.4,1027.8 913.1,1027.7 913.9,1027.6 914.6,1027.5 915.3,1027.4 916.0,1027.3 916.8,1027.2 917.5,1027.1 918.2,1027.0 918.9,1026.9 919.6,1026.8 920.3,1026.7 921.0,1026.6 921.7,1026.5 922.4,1026.4 923.1,1026.3 923.7,1026.2 924.4,1026.1 925.1,1026.1 925.7,1026.0 926.4,1025.9 927.1,1025.8 927.7,1025.7 928.4,1025.6 929.0,1025.5 929.7,1025.4 930.3,1025.4 930.9,1025.3 931.6,1025.2 932.2,1025.1 932.8,1025.0 933.5,1025.0 934.1,1025.0 934.7,1025.0 935.3,1025.1 935.9,1025.1 936.5,1025.1 937.1,1025.1 937.7,1025.1 938.3,1025.1 938.9,1025.1 939.5,1025.1 940.1,1025.2 940.7,1025.2 941.2,1025.2 941.8,1025.2 942.4,1025.2 943.0,1025.2 943.5,1025.2 944.1,1025.2 944.7,1025.3 945.2,1025.3 945.8,1025.3 946.3,1025.3 946.9,1025.3 947.4,1025.3 948.0,1025.3 948.5,1025.3 949.1,1025.4 949.6,1025.4 950.2,1025.4 950.7,1025.4 951.2,1025.4 951.8,1025.4 952.3,1025.4 952.8,1025.4 953.3,1025.4 953.8,1025.5 954.4,1025.5 954.9,1025.5 955.4,1025.5 955.9,1025.5 956.4,1025.5 956.9,1025.5 957.4,1025.5 957.9,1025.5 958.4,1025.6 958.9,1025.6 959.4,1025.6 959.9,1025.6 960.4,1025.6 960.9,1025.6 961.4,1025.6 961.9,1025.6 962.3,1025.6 962.8,1025.7 963.3,1025.7 963.8,1025.7 964.2,1025.7 964.7,1025.7 965.2,1025.7 965.7,1025.8 966.1,1025.8 966.6,1025.9 967.0,1026.0 967.5,1026.0 968.0,1026.1 968.4,1026.1 968.9,1026.2" fill="none" stroke="none" marker-start="url(#tPF)" marker-mid="url(#tPF)" marker-end="url(#tPF)"/>
<polyline points="263.1,1171.4 341.8,1160.5 387.9,1153.4 420.5,1147.4 445.9,1142.4 466.6,1137.8 484.1,1133.4 499.3,1129.4 512.6,1125.6 524.6,1122.3 535.4,1119.2 545.3,1116.4 554.4,1113.9 562.8,1111.5 570.6,1109.3 578.0,1107.2 584.9,1105.3 591.4,1103.4 597.5,1101.7 603.3,1100.1 608.9,1098.6 614.1,1097.2 619.2,1095.8 624.0,1094.5 628.7,1093.2 633.1,1092.0 637.4,1090.8 641.5,1089.7 645.5,1088.6 649.4,1087.6 653.1,1086.6 656.7,1085.6 660.2,1084.6 663.6,1083.7 666.9,1082.8 670.1,1082.0 673.2,1081.1 676.2,1080.3 679.2,1079.5 682.0,1078.7 684.8,1077.9 687.6,1077.2 690.3,1076.5 692.9,1075.8 695.4,1075.1 697.9,1074.4 700.4,1073.7 702.7,1073.0 705.1,1072.2 707.4,1071.5 709.6,1070.7 711.8,1070.0 714.0,1069.3 716.1,1068.6 718.2,1067.9 720.3,1067.3 722.3,1066.6 724.2,1066.0 726.2,1065.4 728.1,1064.7 730.0,1064.1 731.8,1063.5 733.6,1062.9 735.4,1062.4 737.2,1061.8 738.9,1061.2 740.6,1060.7 742.3,1060.1 744.0,1059.6 745.6,1059.1 747.2,1058.5 748.8,1058.0 750.4,1057.5 751.9,1057.0 753.4,1056.5 754.9,1056.0 756.4,1055.2 757.9,1054.4 759.3,1053.6 760.8,1052.9 762.2,1052.1 763.6,1051.4 764.9,1050.6 766.3,1049.9 767.6,1049.1 769.0,1048.4 770.3,1047.7 771.6,1047.0 772.9,1046.3 774.1,1045.6 775.4,1044.9 776.6,1044.3 777.9,1043.6 779.1,1042.9 780.3,1042.3 781.5,1041.6 782.6,1041.0 783.8,1040.4 785.0,1039.7 786.1,1039.1 787.2,1038.5 788.3,1037.9 789.5,1037.3 790.6,1036.9 791.6,1036.6 792.7,1036.4 793.8,1036.1 794.8,1035.9 795.9,1035.6 796.9,1035.4 798.0,1035.1 799.0,1034.9 800.0,1034.7 801.0,1034.4 802.0,1034.2 803.0,1034.0 803.9,1033.7 804.9,1033.5 805.9,1033.3 806.8,1033.1 807.7,1032.9 808.7,1032.6 809.6,1032.4 810.5,1032.2 811.4,1032.0 812.3,1031.8 813.2,1031.6 814.1,1031.4 815.0,1031.2 815.9,1031.0 816.8,1030.8 817.6,1030.6 818.5,1030.4 819.3,1030.2 820.2,1030.0 821.0,1029.8 821.9,1029.6 822.7,1029.4 823.5,1029.3 824.3,1029.1 825.1,1028.9 825.9,1028.7 826.7,1028.6 827.5,1028.4 828.3,1028.2 829.1,1028.1 829.9,1027.9 830.6,1027.7 831.4,1027.6 832.1,1027.4 832.9,1027.3 833.7,1027.1 834.4,1026.9 835.1,1026.8 835.9,1026.6 836.6,1026.5 837.3,1026.3 838.0,1026.2 838.8,1026.0 839.5,1025.8 840.2,1025.7 840.9,1025.5 841.6,1025.4 842.3,1025.3 843.0,1025.1 843.7,1025.0 844.3,1024.8 845.0,1024.7 845.7,1024.5 846.4,1024.4 847.0,1024.2 847.7,1024.1 848.3,1024.0 849.0,1023.8 849.7,1023.7 850.3,1023.5 850.9,1023.3 851.6,1023.0 852.2,1022.7 852.9,1022.4 853.5,1022.0 854.1,1021.7 854.7,1021.4 855.3,1021.1 856.0,1020.8 856.6,1020.5 857.2,1020.2 857.8,1019.9 858.4,1019.7 859.0,1019.4 859.6,1019.1 860.2,1018.8 860.8,1018.5 861.4,1018.2 861.9,1017.9 862.5,1017.6 863.1,1017.4 863.7,1017.1 864.3,1016.8 864.8,1016.5 865.4,1016.2 865.9,1016.0 866.5,1015.7 867.1,1015.4 867.6,1015.2 868.2,1014.9 868.7,1014.6 869.3,1014.4 869.8,1014.1 870.4,1013.9 870.9,1013.8 871.4,1013.7 872.0,1013.6 872.5,1013.5 873.0,1013.4 873.6,1013.3 874.1,1013.2 874.6,1013.1 875.1,1013.0 875.6,1012.9 876.2,1012.8 876.7,1012.7 877.2,1012.6 877.7,1012.5 878.2,1012.4 878.7,1012.3 879.2,1012.2 879.7,1012.1 880.2,1012.0 880.7,1011.9 881.2,1011.8 881.7,1011.7 882.2,1011.6 882.6,1011.5 883.1,1011.4 883.6,1011.3 884.1,1011.2 884.6,1011.1 885.1,1011.0 885.5,1010.9 886.0,1010.8 886.5,1010.7 886.9,1010.6 887.4,1010.5 887.9,1010.4 888.3,1010.3 888.8,1010.2 889.2,1010.2 889.7,1010.1 890.2,1010.0 890.6,1009.9 891.1,1009.8 892.0,1009.6 892.9,1009.5 893.7,1009.3 894.6,1009.2 895.5,1009.0 896.3,1008.8 897.2,1008.7 898.1,1008.5 898.9,1008.4 899.7,1008.2 900.6,1008.1 901.4,1007.9 902.2,1007.8 903.0,1007.6 903.8,1007.5 904.6,1007.3 905.4,1007.2 906.2,1007.0 907.0,1006.9 907.8,1006.8 908.6,1006.6 909.3,1006.5 910.1,1006.3 910.9,1006.2 911.6,1006.1 912.4,1006.0 913.1,1005.9 913.9,1005.9 914.6,1005.8 915.3,1005.8 916.0,1005.7 916.8,1005.7 917.5,1005.6 918.2,1005.6 918.9,1005.5 919.6,1005.5 920.3,1005.4 921.0,1005.4 921.7,1005.3 922.4,1005.3 923.1,1005.2 923.7,1005.2 924.4,1005.1 925.1,1005.1 925.7,1005.0 926.4,1005.0 927.1,1004.9 927.7,1004.9 928.4,1004.8 929.0,1004.8 929.7,1004.7 930.3,1004.7 930.9,1004.6 931.6,1004.6 932.2,1004.6 932.8,1004.5 933.5,1004.5 934.1,1004.4 934.7,1004.4 935.3,1004.3 935.9,1004.3 936.5,1004.2 937.1,1004.2 937.7,1004.2 938.3,1004.1 938.9,1004.1 939.5,1004.0 940.1,1004.0 940.7,1004.0 941.2,1004.0 941.8,1003.9 942.4,1003.9 943.0,1003.9 943.5,1003.9 944.1,1003.9 944.7,1003.9 945.2,1003.9 945.8,1003.8 946.3,1003.8 946.9,1003.8 947.4,1003.8 948.0,1003.8 948.5,1003.8 949.1,1003.7 949.6,1003.7 950.2,1003.7 950.7,1003.7 951.2,1003.7 951.8,1003.7 952.3,1003.6 952.8,1003.6 953.3,1003.6 953.8,1003.6 954.4,1003.6 954.9,1003.6 955.4,1003.6 955.9,1003.5 956.4,1003.5 956.9,1003.5 957.4,1003.5 957.9,1003.5 958.4,1003.5 958.9,1003.5 959.4,1003.4 959.9,1003.4 960.4,1003.4 960.9,1003.4 961.4,1003.4 961.9,1003.4 962.3,1003.4 962.8,1003.3 963.3,1003.3 963.8,1003.3 964.2,1003.3 964.7,1003.3 965.2,1003.3 965.7,1003.3 966.1,1003.3 966.6,1003.2 967.0,1003.2 967.5,1003.2 968.0,1003.2 968.4,1003.2 968.9,1003.2" fill="none" stroke="none" marker-start="url(#tRF)" marker-mid="url(#tRF)" marker-end="url(#tRF)"/>
<polyline points="263.1,1131.6 341.8,1111.8 387.9,1102.8 420.5,1096.0 445.9,1089.1 466.6,1083.8 484.1,1079.0 499.3,1074.0 512.6,1070.3 524.6,1067.0 535.4,1063.9 545.3,1061.2 554.4,1058.7 562.8,1056.3 570.6,1054.2 578.0,1052.1 584.9,1050.2 591.4,1048.4 597.5,1046.7 603.3,1045.4 608.9,1044.5 614.1,1043.6 619.2,1042.7 624.0,1041.9 628.7,1041.1 633.1,1040.4 637.4,1039.6 641.5,1038.9 645.5,1038.3 649.4,1037.6 653.1,1037.0 656.7,1036.4 660.2,1035.8 663.6,1035.2 666.9,1034.6 670.1,1034.1 673.2,1033.6 676.2,1033.0 679.2,1032.5 682.0,1032.1 684.8,1031.6 687.6,1031.1 690.3,1030.7 692.9,1030.2 695.4,1029.8 697.9,1029.4 700.4,1028.9 702.7,1028.6 705.1,1028.2 707.4,1027.8 709.6,1027.4 711.8,1027.1 714.0,1026.7 716.1,1026.4 718.2,1026.0 720.3,1025.7 722.3,1025.4 724.2,1025.1 726.2,1024.7 728.1,1024.4 730.0,1024.1 731.8,1023.8 733.6,1023.5 735.4,1023.2 737.2,1023.0 738.9,1022.7 740.6,1022.4 742.3,1022.1 744.0,1021.9 745.6,1021.6 747.2,1021.3 748.8,1021.1 750.4,1020.8 751.9,1020.6 753.4,1020.3 754.9,1020.1 756.4,1019.8 757.9,1019.6 759.3,1019.4 760.8,1019.1 762.2,1018.9 763.6,1018.7 764.9,1018.4 766.3,1018.2 767.6,1018.0 769.0,1017.8 770.3,1017.6 771.6,1017.4 772.9,1017.2 774.1,1017.0 775.4,1016.7 776.6,1016.5 777.9,1016.3 779.1,1016.2 780.3,1015.9 781.5,1015.7 782.6,1015.5 783.8,1015.3 785.0,1015.0 786.1,1014.8 787.2,1014.6 788.3,1014.4 789.5,1014.2 790.6,1013.9 791.6,1013.7 792.7,1013.5 793.8,1013.3 794.8,1013.1 795.9,1012.9 796.9,1012.7 798.0,1012.5 799.0,1012.3 800.0,1012.1 801.0,1011.9 802.0,1011.7 803.0,1011.5 803.9,1011.3 804.9,1011.1 805.9,1011.0 806.8,1010.8 807.7,1010.6 808.7,1010.4 809.6,1010.2 810.5,1010.0 811.4,1009.9 812.3,1009.7 813.2,1009.5 814.1,1009.3 815.0,1009.2 815.9,1009.0 816.8,1008.8 817.6,1008.7 818.5,1008.5 819.3,1008.3 820.2,1008.2 821.0,1008.0 821.9,1007.9 822.7,1007.8 823.5,1007.8 824.3,1007.7 825.1,1007.6 825.9,1007.5 826.7,1007.5 827.5,1007.4 828.3,1007.3 829.1,1007.2 829.9,1007.2 830.6,1007.1 831.4,1007.0 832.1,1006.9 832.9,1006.9 833.7,1006.8 834.4,1006.7 835.1,1006.7 835.9,1006.6 836.6,1006.5 837.3,1006.4 838.0,1006.4 838.8,1006.3 839.5,1006.2 840.2,1006.2 840.9,1006.1 841.6,1006.0 842.3,1006.0 843.0,1006.1 843.7,1006.1 844.3,1006.1 845.0,1006.2 845.7,1006.2 846.4,1006.2 847.0,1006.3 847.7,1006.3 848.3,1006.4 849.0,1006.4 849.7,1006.4 850.3,1006.5 850.9,1006.5 851.6,1006.5 852.2,1006.6 852.9,1006.6 853.5,1006.6 854.1,1006.7 854.7,1006.7 855.3,1006.7 856.0,1006.8 856.6,1006.8 857.2,1006.8 857.8,1006.9 858.4,1006.9 859.0,1006.9 859.6,1007.0 860.2,1007.0 860.8,1006.9 861.4,1006.8 861.9,1006.7 862.5,1006.6 863.1,1006.5 863.7,1006.4 864.3,1006.4 864.8,1006.3 865.4,1006.2 865.9,1006.1 866.5,1006.0 867.1,1005.9 867.6,1005.9 868.2,1005.8 868.7,1005.7 869.3,1005.6 869.8,1005.5 870.4,1005.4 870.9,1005.4 871.4,1005.3 872.0,1005.2 872.5,1005.1 873.0,1005.0 873.6,1005.0 874.1,1004.9 874.6,1004.8 875.1,1004.7 875.6,1004.7 876.2,1004.6 876.7,1004.5 877.2,1004.4 877.7,1004.3 878.2,1004.3 878.7,1004.2 879.2,1004.1 879.7,1004.0 880.2,1004.0 880.7,1004.0 881.2,1004.0 881.7,1004.0 882.2,1004.0 882.6,1004.0 883.1,1004.0 883.6,1003.9 884.1,1003.9 884.6,1003.9 885.1,1003.9 885.5,1003.9 886.0,1003.9 886.5,1003.9 886.9,1003.9 887.4,1003.9 887.9,1003.9 888.3,1003.9 888.8,1003.9 889.2,1003.9 889.7,1003.8 890.2,1003.8 890.6,1003.8 891.1,1003.8 892.0,1003.8 892.9,1003.8 893.7,1003.8 894.6,1003.8 895.5,1003.8 896.3,1003.7 897.2,1003.7 898.1,1003.7 898.9,1003.7 899.7,1003.7 900.6,1003.7 901.4,1003.7 902.2,1003.7 903.0,1003.6 903.8,1003.6 904.6,1003.6 905.4,1003.6 906.2,1003.6 907.0,1003.6 907.8,1003.6 908.6,1003.6 909.3,1003.5 910.1,1003.5 910.9,1003.5 911.6,1003.5 912.4,1003.4 913.1,1003.3 913.9,1003.2 914.6,1003.1 915.3,1003.0 916.0,1002.9 916.8,1002.8 917.5,1002.7 918.2,1002.6 918.9,1002.5 919.6,1002.4 920.3,1002.3 921.0,1002.2 921.7,1002.1 922.4,1002.0 923.1,1001.9 923.7,1001.8 924.4,1001.7 925.1,1001.6 925.7,1001.5 926.4,1001.4 927.1,1001.3 927.7,1001.3 928.4,1001.2 929.0,1001.1 929.7,1001.0 930.3,1000.9 930.9,1000.8 931.6,1000.7 932.2,1000.6 932.8,1000.5 933.5,1000.5 934.1,1000.5 934.7,1000.5 935.3,1000.5 935.9,1000.5 936.5,1000.4 937.1,1000.4 937.7,1000.4 938.3,1000.4 938.9,1000.4 939.5,1000.4 940.1,1000.4 940.7,1000.4 941.2,1000.4 941.8,1000.4 942.4,1000.4 943.0,1000.3 943.5,1000.3 944.1,1000.3 944.7,1000.3 945.2,1000.3 945.8,1000.3 946.3,1000.3 946.9,1000.3 947.4,1000.3 948.0,1000.3 948.5,1000.3 949.1,1000.2 949.6,1000.2 950.2,1000.2 950.7,1000.2 951.2,1000.2 951.8,1000.2 952.3,1000.2 952.8,1000.2 953.3,1000.2 953.8,1000.2 954.4,1000.2 954.9,1000.2 955.4,1000.2 955.9,1000.1 956.4,1000.1 956.9,1000.1 957.4,1000.1 957.9,1000.1 958.4,1000.1 958.9,1000.1 959.4,1000.1 959.9,1000.1 960.4,1000.1 960.9,1000.1 961.4,1000.1 961.9,1000.0 962.3,1000.0 962.8,1000.0 963.3,1000.0 963.8,1000.0 964.2,1000.0 964.7,1000.0 965.2,1000.0 965.7,1000.0 966.1,1000.0 966.6,1000.0 967.0,1000.0 967.5,1000.0 968.0,1000.0 968.4,1000.0 968.9,1000.0" fill="none" stroke="none" marker-start="url(#tVO)" marker-mid="url(#tVO)" marker-end="url(#tVO)"/>
<polyline points="263.1,1163.5 341.8,1146.0 387.9,1141.3 420.5,1133.3 445.9,1127.0 466.6,1120.3 484.1,1115.2 499.3,1109.6 512.6,1105.8 524.6,1102.3 535.4,1099.2 545.3,1096.4 554.4,1093.8 562.8,1091.4 570.6,1089.1 578.0,1087.0 584.9,1085.0 591.4,1083.2 597.5,1081.4 603.3,1079.9 608.9,1078.6 614.1,1077.3 619.2,1076.1 624.0,1074.9 628.7,1073.8 633.1,1072.7 637.4,1071.7 641.5,1070.7 645.5,1069.8 649.4,1068.8 653.1,1068.0 656.7,1067.1 660.2,1066.2 663.6,1065.4 666.9,1064.6 670.1,1063.9 673.2,1063.1 676.2,1062.4 679.2,1061.7 682.0,1061.0 684.8,1060.3 687.6,1059.7 690.3,1059.0 692.9,1058.4 695.4,1057.8 697.9,1057.2 700.4,1056.6 702.7,1056.0 705.1,1055.3 707.4,1054.7 709.6,1054.0 711.8,1053.4 714.0,1052.8 716.1,1052.2 718.2,1051.6 720.3,1051.1 722.3,1050.5 724.2,1050.0 726.2,1049.4 728.1,1048.9 730.0,1048.4 731.8,1047.8 733.6,1047.3 735.4,1046.8 737.2,1046.3 738.9,1045.9 740.6,1045.4 742.3,1044.9 744.0,1044.5 745.6,1044.0 747.2,1043.6 748.8,1043.1 750.4,1042.7 751.9,1042.2 753.4,1041.8 754.9,1041.4 756.4,1041.0 757.9,1040.6 759.3,1040.2 760.8,1039.8 762.2,1039.4 763.6,1039.0 764.9,1038.6 766.3,1038.2 767.6,1037.8 769.0,1037.5 770.3,1037.1 771.6,1036.7 772.9,1036.4 774.1,1036.0 775.4,1035.7 776.6,1035.3 777.9,1035.0 779.1,1034.7 780.3,1034.3 781.5,1033.9 782.6,1033.5 783.8,1033.1 785.0,1032.7 786.1,1032.3 787.2,1031.9 788.3,1031.5 789.5,1031.1 790.6,1030.7 791.6,1030.3 792.7,1029.9 793.8,1029.6 794.8,1029.2 795.9,1028.8 796.9,1028.5 798.0,1028.1 799.0,1027.7 800.0,1027.4 801.0,1027.0 802.0,1026.7 803.0,1026.3 803.9,1026.0 804.9,1025.7 805.9,1025.3 806.8,1025.0 807.7,1024.7 808.7,1024.3 809.6,1024.0 810.5,1023.7 811.4,1023.4 812.3,1023.0 813.2,1022.7 814.1,1022.4 815.0,1022.1 815.9,1021.8 816.8,1021.5 817.6,1021.2 818.5,1020.9 819.3,1020.6 820.2,1020.3 821.0,1020.0 821.9,1019.7 822.7,1019.3 823.5,1018.9 824.3,1018.6 825.1,1018.2 825.9,1017.9 826.7,1017.6 827.5,1017.2 828.3,1016.9 829.1,1016.5 829.9,1016.2 830.6,1015.9 831.4,1015.5 832.1,1015.2 832.9,1014.9 833.7,1014.6 834.4,1014.2 835.1,1013.9 835.9,1013.6 836.6,1013.3 837.3,1013.0 838.0,1012.7 838.8,1012.3 839.5,1012.0 840.2,1011.7 840.9,1011.4 841.6,1011.1 842.3,1010.8 843.0,1010.5 843.7,1010.2 844.3,1009.9 845.0,1009.6 845.7,1009.4 846.4,1009.1 847.0,1008.8 847.7,1008.5 848.3,1008.2 849.0,1007.9 849.7,1007.6 850.3,1007.4 850.9,1007.1 851.6,1006.8 852.2,1006.5 852.9,1006.3 853.5,1006.0 854.1,1005.7 854.7,1005.4 855.3,1005.2 856.0,1004.9 856.6,1004.6 857.2,1004.4 857.8,1004.1 858.4,1003.9 859.0,1003.6 859.6,1003.3 860.2,1003.1 860.8,1002.8 861.4,1002.6 861.9,1002.3 862.5,1002.1 863.1,1001.8 863.7,1001.6 864.3,1001.4 864.8,1001.2 865.4,1001.0 865.9,1000.7 866.5,1000.5 867.1,1000.3 867.6,1000.1 868.2,999.9 868.7,999.7 869.3,999.4 869.8,999.2 870.4,999.0 870.9,998.8 871.4,998.6 872.0,998.4 872.5,998.2 873.0,998.0 873.6,997.8 874.1,997.6 874.6,997.4 875.1,997.2 875.6,997.0 876.2,996.8 876.7,996.6 877.2,996.4 877.7,996.2 878.2,996.0 878.7,995.8 879.2,995.6 879.7,995.4 880.2,995.2 880.7,995.0 881.2,994.8 881.7,994.6 882.2,994.4 882.6,994.3 883.1,994.1 883.6,994.0 884.1,993.9 884.6,993.8 885.1,993.8 885.5,993.7 886.0,993.7 886.5,993.6 886.9,993.6 887.4,993.5 887.9,993.4 888.3,993.4 888.8,993.3 889.2,993.3 889.7,993.2 890.2,993.2 890.6,993.1 891.1,993.1 892.0,993.0 892.9,992.8 893.7,992.7 894.6,992.6 895.5,992.5 896.3,992.4 897.2,992.3 898.1,992.2 898.9,992.1 899.7,992.0 900.6,991.9 901.4,991.8 902.2,991.7 903.0,991.6 903.8,991.5 904.6,991.4 905.4,991.3 906.2,991.2 907.0,991.1 907.8,991.0 908.6,990.9 909.3,990.9 910.1,990.8 910.9,990.7 911.6,990.6 912.4,990.5 913.1,990.4 913.9,990.3 914.6,990.2 915.3,990.1 916.0,990.0 916.8,990.0 917.5,989.9 918.2,989.8 918.9,989.7 919.6,989.6 920.3,989.5 921.0,989.4 921.7,989.4 922.4,989.3 923.1,989.2 923.7,989.1 924.4,989.0 925.1,989.0 925.7,988.9 926.4,988.8 927.1,988.8 927.7,988.7 928.4,988.6 929.0,988.6 929.7,988.5 930.3,988.5 930.9,988.4 931.6,988.3 932.2,988.3 932.8,988.2 933.5,988.2 934.1,988.1 934.7,988.0 935.3,988.0 935.9,987.9 936.5,987.9 937.1,987.8 937.7,987.7 938.3,987.7 938.9,987.6 939.5,987.6 940.1,987.5 940.7,987.5 941.2,987.4 941.8,987.3 942.4,987.3 943.0,987.2 943.5,987.2 944.1,987.1 944.7,987.1 945.2,987.0 945.8,987.0 946.3,986.9 946.9,986.9 947.4,986.8 948.0,986.7 948.5,986.7 949.1,986.6 949.6,986.6 950.2,986.5 950.7,986.5 951.2,986.4 951.8,986.4 952.3,986.3 952.8,986.3 953.3,986.2 953.8,986.2 954.4,986.1 954.9,986.1 955.4,986.0 955.9,986.0 956.4,985.9 956.9,985.9 957.4,985.8 957.9,985.8 958.4,985.7 958.9,985.7 959.4,985.6 959.9,985.6 960.4,985.5 960.9,985.5 961.4,985.4 961.9,985.4 962.3,985.4 962.8,985.3 963.3,985.3 963.8,985.2 964.2,985.2 964.7,985.1 965.2,985.1 965.7,985.0 966.1,985.0 966.6,985.1 967.0,985.2 967.5,985.3 968.0,985.4 968.4,985.5 968.9,985.6" fill="none" stroke="none" marker-start="url(#tPO)" marker-mid="url(#tPO)" marker-end="url(#tPO)"/>
<polyline points="263.1,1117.0 341.8,1091.4 387.9,1083.1 420.5,1077.8 445.9,1071.0 466.6,1064.4 484.1,1061.2 499.3,1055.2 512.6,1049.1 524.6,1042.6 535.4,1036.7 545.3,1032.2 554.4,1028.4 562.8,1024.8 570.6,1021.6 578.0,1017.8 584.9,1014.1 591.4,1010.6 597.5,1007.7 603.3,1006.0 608.9,1004.4 614.1,1002.8 619.2,1001.4 624.0,999.4 628.7,997.4 633.1,995.4 637.4,993.5 641.5,991.7 645.5,990.0 649.4,988.2 653.1,986.4 656.7,984.6 660.2,982.8 663.6,981.1 666.9,979.5 670.1,977.9 673.2,976.3 676.2,974.8 679.2,973.3 682.0,972.0 684.8,970.9 687.6,969.8 690.3,968.7 692.9,967.7 695.4,966.7 697.9,965.7 700.4,964.7 702.7,963.8 705.1,962.8 707.4,961.9 709.6,961.0 711.8,960.1 714.0,959.3 716.1,958.4 718.2,957.6 720.3,956.8 722.3,956.0 724.2,955.2 726.2,954.4 728.1,953.6 730.0,952.9 731.8,952.1 733.6,951.4 735.4,950.7 737.2,950.0 738.9,949.3 740.6,948.6 742.3,948.0 744.0,947.3 745.6,946.6 747.2,945.9 748.8,945.2 750.4,944.5 751.9,943.8 753.4,943.1 754.9,942.4 756.4,941.8 757.9,941.1 759.3,940.5 760.8,939.9 762.2,939.5 763.6,939.0 764.9,938.5 766.3,938.1 767.6,937.6 769.0,937.2 770.3,936.7 771.6,936.3 772.9,935.8 774.1,935.4 775.4,935.0 776.6,934.6 777.9,934.2 779.1,933.7 780.3,933.3 781.5,932.9 782.6,932.5 783.8,932.1 785.0,931.8 786.1,931.4 787.2,931.0 788.3,930.6 789.5,930.2 790.6,929.9 791.6,929.5 792.7,929.1 793.8,928.8 794.8,928.3 795.9,927.8 796.9,927.2 798.0,926.7 799.0,926.2 800.0,925.7 801.0,925.2 802.0,924.7 803.0,924.2 803.9,923.7 804.9,923.2 805.9,922.7 806.8,922.3 807.7,921.8 808.7,921.3 809.6,920.9 810.5,920.4 811.4,919.9 812.3,919.5 813.2,919.0 814.1,918.6 815.0,918.1 815.9,917.7 816.8,917.3 817.6,916.8 818.5,916.4 819.3,916.0 820.2,915.5 821.0,915.1 821.9,914.7 822.7,914.3 823.5,913.9 824.3,913.5 825.1,913.1 825.9,912.7 826.7,912.3 827.5,911.9 828.3,911.5 829.1,911.1 829.9,910.7 830.6,910.3 831.4,909.9 832.1,909.5 832.9,909.1 833.7,908.7 834.4,908.2 835.1,907.8 835.9,907.4 836.6,906.9 837.3,906.5 838.0,906.1 838.8,905.6 839.5,905.2 840.2,904.8 840.9,904.4 841.6,903.9 842.3,903.5 843.0,903.1 843.7,902.7 844.3,902.3 845.0,901.9 845.7,901.5 846.4,901.1 847.0,900.7 847.7,900.3 848.3,899.9 849.0,899.5 849.7,899.1 850.3,898.7 850.9,898.4 851.6,898.0 852.2,897.6 852.9,897.2 853.5,896.8 854.1,896.5 854.7,896.1 855.3,895.7 856.0,895.3 856.6,895.0 857.2,894.6 857.8,894.3 858.4,893.9 859.0,893.5 859.6,893.2 860.2,892.8 860.8,892.5 861.4,892.1 861.9,891.8 862.5,891.4 863.1,891.1 863.7,890.7 864.3,890.4 864.8,890.1 865.4,889.7 865.9,889.4 866.5,889.0 867.1,888.7 867.6,888.4 868.2,888.0 868.7,887.7 869.3,887.4 869.8,887.1 870.4,886.7 870.9,886.4 871.4,886.1 872.0,885.9 872.5,885.6 873.0,885.4 873.6,885.2 874.1,885.0 874.6,884.8 875.1,884.6 875.6,884.4 876.2,884.2 876.7,884.0 877.2,883.8 877.7,883.6 878.2,883.3 878.7,883.1 879.2,882.9 879.7,882.7 880.2,882.5 880.7,882.3 881.2,882.1 881.7,881.9 882.2,881.8 882.6,881.6 883.1,881.4 883.6,881.2 884.1,881.0 884.6,880.8 885.1,880.6 885.5,880.4 886.0,880.2 886.5,880.0 886.9,879.8 887.4,879.6 887.9,879.5 888.3,879.3 888.8,879.1 889.2,878.9 889.7,878.7 890.2,878.5 890.6,878.4 891.1,878.2 892.0,877.8 892.9,877.5 893.7,877.1 894.6,876.7 895.5,876.4 896.3,876.0 897.2,875.7 898.1,875.4 898.9,875.0 899.7,874.7 900.6,874.4 901.4,874.0 902.2,873.7 903.0,873.4 903.8,873.0 904.6,872.7 905.4,872.4 906.2,872.1 907.0,871.8 907.8,871.4 908.6,871.1 909.3,870.8 910.1,870.5 910.9,870.3 911.6,870.2 912.4,870.0 913.1,869.9 913.9,869.7 914.6,869.6 915.3,869.4 916.0,869.3 916.8,869.1 917.5,869.0 918.2,868.9 918.9,868.7 919.6,868.6 920.3,868.4 921.0,868.3 921.7,868.2 922.4,868.0 923.1,867.9 923.7,867.8 924.4,867.6 925.1,867.5 925.7,867.4 926.4,867.2 927.1,867.1 927.7,867.0 928.4,866.8 929.0,866.7 929.7,866.6 930.3,866.4 930.9,866.3 931.6,866.2 932.2,866.1 932.8,865.9 933.5,865.8 934.1,865.7 934.7,865.6 935.3,865.5 935.9,865.3 936.5,865.2 937.1,865.1 937.7,865.0 938.3,864.9 938.9,864.7 939.5,864.6 940.1,864.5 940.7,864.4 941.2,864.3 941.8,864.2 942.4,864.1 943.0,863.9 943.5,863.8 944.1,863.7 944.7,863.6 945.2,863.5 945.8,863.4 946.3,863.3 946.9,863.2 947.4,863.0 948.0,862.9 948.5,862.8 949.1,862.7 949.6,862.6 950.2,862.5 950.7,862.5 951.2,862.4 951.8,862.3 952.3,862.2 952.8,862.1 953.3,862.0 953.8,861.9 954.4,861.8 954.9,861.7 955.4,861.7 955.9,861.6 956.4,861.5 956.9,861.4 957.4,861.3 957.9,861.2 958.4,861.2 958.9,861.1 959.4,861.0 959.9,860.9 960.4,860.8 960.9,860.7 961.4,860.7 961.9,860.6 962.3,860.5 962.8,860.4 963.3,860.3 963.8,860.3 964.2,860.2 964.7,860.1 965.2,860.0 965.7,859.9 966.1,859.9 966.6,859.8 967.0,859.7 967.5,859.6 968.0,859.6 968.4,859.5 968.9,859.4" fill="none" stroke="none" marker-start="url(#tRO)" marker-mid="url(#tRO)" marker-end="url(#tRO)"/>
<polyline points="263.1,1160.3 341.8,1141.3 387.9,1130.0 420.5,1119.0 445.9,1109.6 466.6,1100.6 484.1,1092.0 499.3,1083.0 512.6,1075.0 524.6,1068.0 535.4,1063.0 545.3,1057.5 554.4,1051.5 562.8,1046.0 570.6,1040.5 578.0,1035.4 584.9,1029.3 591.4,1022.7 597.5,1016.5 603.3,1011.5 608.9,1007.9 614.1,1004.5 619.2,1001.2 624.0,997.3 628.7,993.2 633.1,989.4 637.4,986.5 641.5,983.6 645.5,980.8 649.4,978.2 653.1,975.6 656.7,973.1 660.2,970.7 663.6,968.3 666.9,965.8 670.1,963.2 673.2,960.7 676.2,958.3 679.2,956.0 682.0,953.5 684.8,951.0 687.6,948.6 690.3,946.2 692.9,943.8 695.4,941.5 697.9,939.0 700.4,936.0 702.7,933.2 705.1,930.4 707.4,927.6 709.6,924.9 711.8,922.3 714.0,919.7 716.1,917.1 718.2,914.6 720.3,912.1 722.3,909.7 724.2,907.3 726.2,905.0 728.1,902.7 730.0,900.4 731.8,898.0 733.6,895.6 735.4,893.3 737.2,891.0 738.9,888.8 740.6,886.5 742.3,884.4 744.0,882.2 745.6,880.0 747.2,877.7 748.8,875.5 750.4,873.2 751.9,871.0 753.4,868.9 754.9,866.7 756.4,864.6 757.9,863.2 759.3,861.8 760.8,860.4 762.2,859.1 763.6,857.7 764.9,856.4 766.3,855.1 767.6,853.8 769.0,852.6 770.3,851.3 771.6,850.1 772.9,848.9 774.1,847.6 775.4,847.0 776.6,846.8 777.9,846.5 779.1,846.3 780.3,846.1 781.5,845.8 782.6,845.6 783.8,845.3 785.0,845.1 786.1,844.9 787.2,844.7 788.3,844.4 789.5,844.2 790.6,844.0 791.6,843.8 792.7,843.6 793.8,843.3 794.8,843.3 795.9,843.2 796.9,843.1 798.0,843.1 799.0,843.0 800.0,843.0 801.0,842.9 802.0,842.9 803.0,842.8 803.9,842.8 804.9,842.7 805.9,842.7 806.8,842.6 807.7,842.6 808.7,842.5 809.6,842.5 810.5,842.4 811.4,842.4 812.3,842.4 813.2,842.3 814.1,842.3 815.0,842.2 815.9,842.2 816.8,842.1 817.6,842.1 818.5,842.0 819.3,842.0 820.2,842.0 821.0,841.9 821.9,841.9 822.7,841.8 823.5,841.8 824.3,841.7 825.1,841.7 825.9,841.7 826.7,841.6 827.5,841.6 828.3,841.5 829.1,841.5 829.9,841.5 830.6,841.4 831.4,841.4 832.1,841.3 832.9,841.3 833.7,841.3 834.4,841.4 835.1,841.4 835.9,841.5 836.6,841.5 837.3,841.5 838.0,841.6 838.8,841.6 839.5,841.6 840.2,841.7 840.9,841.7 841.6,841.8 842.3,841.8 843.0,841.8 843.7,841.9 844.3,841.9 845.0,841.9 845.7,842.0 846.4,842.0 847.0,842.0 847.7,842.1 848.3,842.1 849.0,842.1 849.7,842.2 850.3,842.2 850.9,842.2 851.6,842.3 852.2,842.3 852.9,842.3 853.5,842.4 854.1,842.4 854.7,842.4 855.3,842.5 856.0,842.5 856.6,842.5 857.2,842.6 857.8,842.6 858.4,842.6 859.0,842.7 859.6,842.7 860.2,842.7 860.8,842.7 861.4,842.8 861.9,842.8 862.5,842.8 863.1,842.9 863.7,842.9 864.3,842.9 864.8,843.0 865.4,843.0 865.9,843.0 866.5,843.0 867.1,843.1 867.6,843.1 868.2,843.1 868.7,843.2 869.3,843.2 869.8,843.2 870.4,843.2 870.9,843.3 871.4,843.3 872.0,843.1 872.5,842.8 873.0,842.6 873.6,842.3 874.1,842.1 874.6,841.8 875.1,841.5 875.6,841.3 876.2,841.0 876.7,840.8 877.2,840.5 877.7,840.2 878.2,840.0 878.7,839.7 879.2,839.5 879.7,839.2 880.2,839.0 880.7,838.7 881.2,838.5 881.7,838.2 882.2,838.0 882.6,837.8 883.1,837.5 883.6,837.3 884.1,837.0 884.6,836.8 885.1,836.5 885.5,836.3 886.0,836.1 886.5,835.8 886.9,835.6 887.4,835.4 887.9,835.1 888.3,834.9 888.8,834.7 889.2,834.4 889.7,834.2 890.2,834.0 890.6,833.8 891.1,833.5 892.0,833.1 892.9,832.6 893.7,832.2 894.6,831.7 895.5,831.3 896.3,830.9 897.2,830.5 898.1,830.0 898.9,829.6 899.7,829.2 900.6,828.8 901.4,828.4 902.2,828.0 903.0,827.6 903.8,827.2 904.6,826.8 905.4,826.4 906.2,826.0 907.0,825.6 907.8,825.2 908.6,824.8 909.3,824.4 910.1,824.0 910.9,824.1 911.6,824.4 912.4,824.7 913.1,825.0 913.9,825.3 914.6,825.6 915.3,825.9 916.0,826.1 916.8,826.4 917.5,826.7 918.2,827.0 918.9,827.3 919.6,827.6 920.3,827.8 921.0,828.1 921.7,828.4 922.4,828.7 923.1,828.9 923.7,829.2 924.4,829.5 925.1,829.7 925.7,830.0 926.4,830.3 927.1,830.5 927.7,830.8 928.4,831.0 929.0,831.3 929.7,831.5 930.3,831.9 930.9,832.3 931.6,832.7 932.2,833.0 932.8,833.4 933.5,833.8 934.1,834.2 934.7,834.5 935.3,834.9 935.9,835.3 936.5,835.6 937.1,836.0 937.7,836.4 938.3,836.7 938.9,837.1 939.5,837.4 940.1,837.8 940.7,838.2 941.2,838.5 941.8,838.9 942.4,839.2 943.0,839.5 943.5,839.9 944.1,840.2 944.7,840.6 945.2,840.9 945.8,841.2 946.3,841.6 946.9,841.9 947.4,842.2 948.0,842.6 948.5,842.9 949.1,843.2 949.6,843.5 950.2,843.7 950.7,843.9 951.2,844.1 951.8,844.3 952.3,844.5 952.8,844.7 953.3,844.9 953.8,845.1 954.4,845.3 954.9,845.6 955.4,845.8 955.9,846.0 956.4,846.2 956.9,846.4 957.4,846.6 957.9,846.8 958.4,847.0 958.9,847.2 959.4,847.4 959.9,847.5 960.4,847.7 960.9,847.9 961.4,848.1 961.9,848.3 962.3,848.5 962.8,848.7 963.3,848.9 963.8,849.1 964.2,849.3 964.7,849.5 965.2,849.6 965.7,849.8 966.1,850.0 966.6,850.2 967.0,850.4 967.5,850.6 968.0,850.7 968.4,850.9 968.6,851.0" fill="none" stroke="none" marker-start="url(#tWO)" marker-mid="url(#tWO)" marker-end="url(#tWO)"/>
<polyline points="263.6,1088.1 295.4,1064.7 325.6,1042.0 355.9,1017.8 386.1,992.1 399.7,983.0 420.3,968.3 440.0,952.3 460.6,939.0 480.0,926.3 501.0,914.6 521.1,904.8 541.3,896.8 561.5,890.6 579.6,884.5 592.0,880.3 610.0,874.8 624.5,871.9 640.6,865.3 656.8,852.6 672.9,843.3 689.0,843.8 700.0,840.8 716.0,843.5 727.4,849.3 745.2,847.8 754.8,850.3 764.5,860.3 771.0,865.3 779.0,860.8 783.9,854.8 796.8,850.0 806.5,835.5 812.9,832.3 822.6,838.7 837.0,840.3 848.4,834.3 855.0,838.3 862.0,842.3 876.5,846.6 888.2,842.3 895.5,829.3 902.9,837.8 906.0,849.3 920.4,849.5 935.0,853.9 954.0,856.8 964.2,848.3 970.5,845.3" fill="none" stroke="#000" stroke-width="12.4" stroke-linejoin="round" stroke-linecap="round"/><polyline points="592.0,880.3 610.0,874.8 624.5,871.9 640.6,865.3 656.8,852.6 672.9,843.3 689.0,843.8 700.0,840.8 716.0,843.5 727.4,849.3 745.2,847.8 754.8,850.3 764.5,860.3 771.0,865.3 779.0,860.8 783.9,854.8 796.8,850.0 806.5,835.5 812.9,832.3 822.6,838.7 837.0,840.3 848.4,834.3 855.0,838.3 862.0,842.3 876.5,846.6 888.2,842.3 895.5,829.3 902.9,837.8 906.0,849.3 920.4,849.5 935.0,853.9 954.0,856.8 964.2,848.3 970.5,845.3" fill="none" stroke="#000" stroke-width="14.2" stroke-linejoin="round" stroke-linecap="round"/>
<circle cx="273.5" cy="1685" r="14.8" fill="#000"/><rect x="419.6" y="1486.2" width="20.9" height="20.9" fill="none" stroke="#00FFFF" stroke-width="5.3"/><rect x="417.0" y="1519.4" width="26.2" height="26.2" fill="#00FFFF"/><path d="M430.7 1866.6L445.8 1891.7L415.6 1891.7Z" fill="none" stroke="#FF90FF" stroke-width="5.0" stroke-linejoin="round"/><path d="M430.7 1841.4L447.6 1869.4L413.8 1869.4Z" fill="#FF90FF" stroke="#FF90FF" stroke-width="2.0" stroke-linejoin="round"/><rect x="573.8" y="1417.8" width="26.2" height="26.2" fill="#20A0FF"/><rect x="576.4" y="1536.2" width="20.9" height="20.9" fill="none" stroke="#20A0FF" stroke-width="5.3"/><path d="M587.1 1852.5L602.2 1878.3L572.0 1878.3Z" fill="none" stroke="#FF0080" stroke-width="5.0" stroke-linejoin="round"/><path d="M587.1 1906.2L604.0 1935.9L570.2 1935.9Z" fill="#FF0080" stroke="#FF0080" stroke-width="2.0" stroke-linejoin="round"/><rect x="730.4" y="1475.8" width="26.2" height="26.2" fill="#000CFF"/><rect x="733.0" y="1603.0" width="20.9" height="20.9" fill="none" stroke="#000CFF" stroke-width="5.3"/><path d="M744.0 1871.0L760.9 1899.9L727.1 1899.9Z" fill="#E60000" stroke="#E60000" stroke-width="2.0" stroke-linejoin="round"/><path d="M744.0 1929.0L759.1 1955.2L728.9 1955.2Z" fill="none" stroke="#E60000" stroke-width="5.0" stroke-linejoin="round"/><rect x="889.6" y="1508.8" width="20.9" height="20.9" fill="none" stroke="#000080" stroke-width="5.3"/><path d="M901.1 1673.2L918.0 1702.5L884.2 1702.5Z" fill="#8C0000" stroke="#8C0000" stroke-width="2.0" stroke-linejoin="round"/><rect x="887.0" y="1678.6" width="26.2" height="26.2" fill="#000080"/><path d="M901.1 1868.2L918.0 1896.7L884.2 1896.7Z" fill="#8C0000" stroke="#8C0000" stroke-width="2.0" stroke-linejoin="round"/>
<rect x="195.5" y="10" width="783.9" height="600.3" fill="none" stroke="#000" stroke-width="2.6"/><rect x="195.5" y="610.3" width="783.9" height="600.3" fill="none" stroke="#000" stroke-width="2.6"/><line x1="196.6" y1="610.3" x2="196.6" y2="1210.6" stroke="#000" stroke-width="4.4"/><rect x="195.5" y="1382.3" width="783.9" height="600.4000000000001" fill="none" stroke="#000" stroke-width="2.6"/><path d="M206.5 610.3V616.8M206.5 1210.6V1217.1M224.0 610.3V616.8M224.0 1210.6V1217.1M239.2 610.3V616.8M239.2 1210.6V1217.1M252.5 610.3V616.8M252.5 1210.6V1217.1M264.5 610.3V622.8M264.5 1210.6V1223.1M343.2 610.3V616.8M343.2 1210.6V1217.1M389.3 610.3V616.8M389.3 1210.6V1217.1M421.9 610.3V616.8M421.9 1210.6V1217.1M447.3 610.3V616.8M447.3 1210.6V1217.1M468.0 610.3V616.8M468.0 1210.6V1217.1M485.5 610.3V616.8M485.5 1210.6V1217.1M500.7 610.3V616.8M500.7 1210.6V1217.1M514.0 610.3V616.8M514.0 1210.6V1217.1M526.0 610.3V622.8M526.0 1210.6V1223.1M604.7 610.3V616.8M604.7 1210.6V1217.1M650.8 610.3V616.8M650.8 1210.6V1217.1M683.4 610.3V616.8M683.4 1210.6V1217.1M708.8 610.3V616.8M708.8 1210.6V1217.1M729.5 610.3V616.8M729.5 1210.6V1217.1M747.0 610.3V616.8M747.0 1210.6V1217.1M762.2 610.3V616.8M762.2 1210.6V1217.1M775.5 610.3V616.8M775.5 1210.6V1217.1M787.5 610.3V622.8M787.5 1210.6V1223.1M866.2 610.3V616.8M866.2 1210.6V1217.1M912.3 610.3V616.8M912.3 1210.6V1217.1M944.9 610.3V616.8M944.9 1210.6V1217.1M970.3 610.3V616.8M970.3 1210.6V1217.1M183.0 610.3H195.5M189.0 540.5H195.5M183.0 470.7H195.5M189.0 400.9H195.5M183.0 331.1H195.5M189.0 261.3H195.5M183.0 191.5H195.5M189.0 121.7H195.5M183.0 51.9H195.5M183.0 1210.6H195.5M189.0 1175.7H195.5M189.0 1140.8H195.5M189.0 1105.9H195.5M183.0 1071.0H195.5M189.0 1036.1H195.5M189.0 1001.2H195.5M189.0 966.3H195.5M183.0 931.4H195.5M189.0 896.5H195.5M189.0 861.6H195.5M189.0 826.7H195.5M183.0 791.8H195.5M189.0 756.9H195.5M189.0 722.0H195.5M189.0 687.1H195.5M183.0 652.2H195.5M189.0 617.3H195.5M183.0 1982.7H195.5M189.0 1935.8H195.5M183.0 1888.8H195.5M189.0 1841.9H195.5M183.0 1794.9H195.5M189.0 1748.0H195.5M183.0 1701.1H195.5M189.0 1654.1H195.5M183.0 1607.2H195.5M189.0 1560.2H195.5M183.0 1513.3H195.5M189.0 1466.3H195.5M183.0 1419.4H195.5M195.5 1982.7V1989.2M273.8 1982.7V1995.2M352.1 1982.7V1989.2M430.5 1982.7V1995.2M508.9 1982.7V1989.2M587.2 1982.7V1995.2M665.5 1982.7V1989.2M743.9 1982.7V1995.2M822.2 1982.7V1989.2M900.6 1982.7V1995.2M979.4 1982.7V1989.2" stroke="#000" stroke-width="2.6" fill="none"/>
<text x="176.0" y="619.8" font-size="40.5" text-anchor="end" font-weight="normal" >0.0</text><text x="176.0" y="1220.1" font-size="40.5" text-anchor="end" font-weight="normal" >0.0</text><text x="176.0" y="480.2" font-size="40.5" text-anchor="end" font-weight="normal" >0.1</text><text x="176.0" y="1080.5" font-size="40.5" text-anchor="end" font-weight="normal" >0.1</text><text x="176.0" y="340.6" font-size="40.5" text-anchor="end" font-weight="normal" >0.2</text><text x="176.0" y="940.9" font-size="40.5" text-anchor="end" font-weight="normal" >0.2</text><text x="176.0" y="201.0" font-size="40.5" text-anchor="end" font-weight="normal" >0.3</text><text x="176.0" y="801.3" font-size="40.5" text-anchor="end" font-weight="normal" >0.3</text><text x="176.0" y="61.4" font-size="40.5" text-anchor="end" font-weight="normal" >0.4</text><text x="176.0" y="661.7" font-size="40.5" text-anchor="end" font-weight="normal" >0.4</text><text x="176.0" y="1992.2" font-size="40.5" text-anchor="end" font-weight="normal" >0.10</text><text x="176.0" y="1898.3" font-size="40.5" text-anchor="end" font-weight="normal" >0.15</text><text x="176.0" y="1804.4" font-size="40.5" text-anchor="end" font-weight="normal" >0.20</text><text x="176.0" y="1710.6" font-size="40.5" text-anchor="end" font-weight="normal" >0.25</text><text x="176.0" y="1616.7" font-size="40.5" text-anchor="end" font-weight="normal" >0.30</text><text x="176.0" y="1522.8" font-size="40.5" text-anchor="end" font-weight="normal" >0.35</text><text x="176.0" y="1428.9" font-size="40.5" text-anchor="end" font-weight="normal" >0.40</text><text x="264.5" y="1262.0" font-size="40.5" text-anchor="middle" font-weight="normal" >0.1</text><text x="526.0" y="1262.0" font-size="40.5" text-anchor="middle" font-weight="normal" >1</text><text x="787.5" y="1262.0" font-size="40.5" text-anchor="middle" font-weight="normal" >10</text><text x="273.8" y="2034.0" font-size="40.5" text-anchor="middle" font-weight="normal" >0</text><text x="430.5" y="2034.0" font-size="40.5" text-anchor="middle" font-weight="normal" >10</text><text x="587.2" y="2034.0" font-size="40.5" text-anchor="middle" font-weight="normal" >20</text><text x="743.9" y="2034.0" font-size="40.5" text-anchor="middle" font-weight="normal" >30</text><text x="900.6" y="2034.0" font-size="40.5" text-anchor="middle" font-weight="normal" >40</text><text x="211.0" y="48.0" font-size="35.5" text-anchor="start" font-weight="bold" >A</text><text x="211.0" y="664.0" font-size="35.5" text-anchor="start" font-weight="bold" >B</text><text x="211.0" y="1428.0" font-size="35.5" text-anchor="start" font-weight="bold" >C</text><text transform="translate(450.2 1313.0) scale(0.986 1)" font-size="55.7">Time (s)</text><text transform="translate(246.8 2114.0) scale(0.9635 1)" font-size="55.6">Crowder Concentration (w/v)</text><text transform="translate(70.8 900.0) rotate(-90) scale(0.981 1)" font-size="54.5">Fluctuation Range f(t)</text><text transform="translate(55 1703) rotate(-90)" font-size="54.5"><tspan stroke="#000" stroke-width="0.7">f</tspan><tspan font-size="35" dy="22" dx="-2">ss</tspan></text>
</svg>
</body></html>
